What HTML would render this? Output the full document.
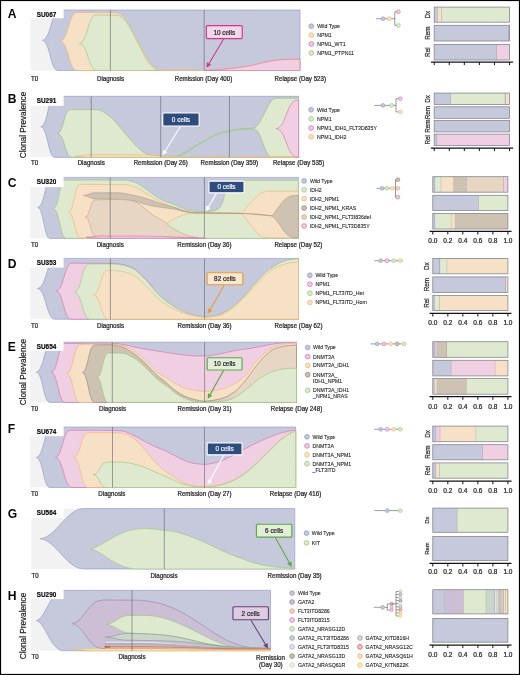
<!DOCTYPE html>
<html><head><meta charset="utf-8"><style>
html,body{margin:0;padding:0;background:#fff;}
svg{display:block;font-family:"Liberation Sans", sans-serif;}
</style></head><body>
<svg width="520" height="675" viewBox="0 0 520 675">
<rect x="0" y="0" width="520" height="675" fill="#fff"/>
<defs><linearGradient id="tpE" gradientUnits="userSpaceOnUse" x1="200" y1="0" x2="240" y2="0"><stop offset="0" stop-color="#cec3b3"/><stop offset="1" stop-color="#e6d6c3"/></linearGradient></defs>
<g opacity="0.99">
<rect x="30.5" y="10" width="269.5" height="60.5" fill="#f2f2f2"/>
<path d="M42.3 40.25C51.15 39.34 51.15 10 60 10C160.8 10 199.2 10 300 10L300 70.5C198.36 70.5 159.64 70.5 58 70.5C50.15 70.5 50.15 41.16 42.3 40.25Z" fill="#c6c8dc" stroke="#8e96c6" stroke-width="0.6" stroke-linejoin="round"/>
<path d="M60.3 41.2C68.65 40.34 68.65 12.5 77 12.5C90 12.5 103 12.61 116 12.8C130.67 13.02 145.33 70 160 70C176.8 70 183.2 70 200 70C202.1 70 202.9 70.05 205 70.05C208.67 70.05 212.33 69.85 216 69.65C219.57 69.46 223.13 68.92 226.7 68.55C230.13 68.19 233.57 67.87 237 67.45C240.63 67 244.27 66.5 247.9 65.85C251.43 65.22 254.97 64.24 258.5 63.45C262 62.67 265.5 61.78 269 61.15C272.53 60.52 276.07 59.81 279.6 59.55C283.07 59.3 286.53 59.11 290 59.05C293.33 59 296.67 58.95 300 58.95L300 70.5C206.34 70.5 170.66 70.5 77 70.5C68.65 70.5 68.65 42.08 60.3 41.2Z" fill="#f6e1c7" stroke="#ecb46c" stroke-width="0.6" stroke-linejoin="round"/>
<path d="M79.4 43.6C87.7 42.74 87.7 15 96 15C103 15 110 15.08 117 15.2C130.83 15.44 144.67 70.3 158.5 70.3L158.5 70.5C132.67 70.5 122.83 70.5 97 70.5C88.2 70.5 88.2 44.41 79.4 43.6Z" fill="#dfe9cf" stroke="#94c47c" stroke-width="0.6" stroke-linejoin="round"/>
<path d="M205 70.4C208.67 70.4 212.33 70.2 216 70C219.57 69.81 223.13 69.27 226.7 68.9C230.13 68.54 233.57 68.22 237 67.8C240.63 67.35 244.27 66.85 247.9 66.2C251.43 65.57 254.97 64.59 258.5 63.8C262 63.02 265.5 62.13 269 61.5C272.53 60.87 276.07 60.16 279.6 59.9C283.07 59.65 286.53 59.46 290 59.4C293.33 59.35 296.67 59.3 300 59.3L300 70.5C260.1 70.5 244.9 70.5 205 70.5Z" fill="#f0cfe3" stroke="#dc6f9c" stroke-width="0.6" stroke-linejoin="round"/>
<line x1="110.4" y1="10" x2="110.4" y2="70.5" stroke="#50505e" stroke-opacity="0.7" stroke-width="0.75"/>
<line x1="204.2" y1="10" x2="204.2" y2="70.5" stroke="#50505e" stroke-opacity="0.7" stroke-width="0.75"/>
<rect x="29.5" y="8.5" width="34.1" height="9.7" fill="#fff"/>
<text transform="translate(36.7 16.5) scale(0.955 1)" font-size="6.7" text-anchor="start" font-weight="bold" fill="#000" stroke="#000" stroke-width="0.15">SU067</text>
<text x="7.7" y="17.9" font-size="12.1" text-anchor="start" font-weight="bold" fill="#000">A</text>
<text transform="translate(31 81.2) scale(0.95 1)" font-size="6.5" text-anchor="start" font-weight="normal" fill="#1e1e1e" stroke="#1e1e1e" stroke-width="0.24">T0</text>
<text transform="translate(110.5 81.2) scale(0.95 1)" font-size="6.5" text-anchor="middle" font-weight="normal" fill="#1e1e1e" stroke="#1e1e1e" stroke-width="0.24">Diagnosis</text>
<text transform="translate(203.5 81.2) scale(0.95 1)" font-size="6.5" text-anchor="middle" font-weight="normal" fill="#1e1e1e" stroke="#1e1e1e" stroke-width="0.24">Remission (Day 400)</text>
<text transform="translate(300.3 81.2) scale(0.95 1)" font-size="6.5" text-anchor="middle" font-weight="normal" fill="#1e1e1e" stroke="#1e1e1e" stroke-width="0.24">Relapse (Day 523)</text>
<line x1="223.6" y1="39.1" x2="208.8" y2="63.93" stroke="#d0368f" stroke-width="1.05"/>
<polygon points="206.5,67.8 206.91,62.23 211.21,64.78" fill="#d0368f"/>
<rect x="206.35" y="25.65" width="35.9" height="12.9" rx="1" fill="#f3d6e8" stroke="#d0368f" stroke-width="1.15"/>
<text transform="translate(224.3 34.5) scale(0.97 1)" font-size="6.6" text-anchor="middle" font-weight="normal" fill="#2a2a2a" stroke="#2a2a2a" stroke-width="0.24">10 cells</text>
<circle cx="311.3" cy="26.2" r="2.35" fill="#c6c8dc" stroke="#8e96c6" stroke-width="0.75"/>
<text transform="translate(317.2 28.1) scale(0.965 1)" font-size="5.4" text-anchor="start" font-weight="normal" fill="#222" stroke="#222" stroke-width="0.1">Wild Type</text>
<circle cx="311.3" cy="35.1" r="2.35" fill="#f6e1c7" stroke="#ecb46c" stroke-width="0.75"/>
<text transform="translate(317.2 37) scale(0.965 1)" font-size="5.4" text-anchor="start" font-weight="normal" fill="#222" stroke="#222" stroke-width="0.1">NPM1</text>
<circle cx="311.3" cy="44" r="2.35" fill="#f0cfe3" stroke="#d96aaa" stroke-width="0.75"/>
<text transform="translate(317.2 45.9) scale(0.965 1)" font-size="5.4" text-anchor="start" font-weight="normal" fill="#222" stroke="#222" stroke-width="0.1">NPM1_WT1</text>
<circle cx="311.3" cy="53" r="2.35" fill="#dfe9cf" stroke="#94c47c" stroke-width="0.75"/>
<text transform="translate(317.2 54.9) scale(0.965 1)" font-size="5.4" text-anchor="start" font-weight="normal" fill="#222" stroke="#222" stroke-width="0.1">NPM1_PTPN11</text>
<line x1="376" y1="18.7" x2="395" y2="18.7" stroke="#555" stroke-width="0.6"/>
<line x1="394.8" y1="11.7" x2="394.8" y2="25.4" stroke="#555" stroke-width="0.6"/>
<line x1="394.8" y1="11.7" x2="398" y2="11.7" stroke="#555" stroke-width="0.6"/>
<line x1="394.8" y1="25.4" x2="398" y2="25.4" stroke="#555" stroke-width="0.6"/>
<circle cx="383" cy="18.7" r="1.9" fill="#c6c8dc" stroke="#8e96c6" stroke-width="0.6"/>
<circle cx="389.5" cy="18.7" r="1.9" fill="#f6e1c7" stroke="#ecb46c" stroke-width="0.6"/>
<circle cx="398.4" cy="11.7" r="1.9" fill="#f0cfe3" stroke="#d96aaa" stroke-width="0.6"/>
<circle cx="398.4" cy="25.4" r="1.9" fill="#dfe9cf" stroke="#94c47c" stroke-width="0.6"/>
<rect x="434.2" y="7.1" width="3.4" height="15.1" fill="#c6c8dc"/>
<line x1="437.6" y1="7.1" x2="437.6" y2="22.2" stroke="#5e5e68" stroke-opacity="0.75" stroke-width="0.6"/>
<rect x="437.6" y="7.1" width="4.1" height="15.1" fill="#f6e1c7"/>
<line x1="441.7" y1="7.1" x2="441.7" y2="22.2" stroke="#5e5e68" stroke-opacity="0.75" stroke-width="0.6"/>
<rect x="441.7" y="7.1" width="67.8" height="15.1" fill="#dfe9cf"/>
<rect x="434.2" y="7.1" width="75.3" height="15.1" fill="none" stroke="#85858f" stroke-width="0.8"/>
<rect x="434.2" y="25.3" width="74.8" height="15.7" fill="#c6c8dc"/>
<line x1="509" y1="25.3" x2="509" y2="41" stroke="#5e5e68" stroke-opacity="0.75" stroke-width="0.6"/>
<rect x="509" y="25.3" width="0.5" height="15.7" fill="#dfe9cf"/>
<rect x="434.2" y="25.3" width="75.3" height="15.7" fill="none" stroke="#85858f" stroke-width="0.8"/>
<rect x="434.2" y="44.4" width="62.6" height="15.6" fill="#c6c8dc"/>
<line x1="496.8" y1="44.4" x2="496.8" y2="60" stroke="#5e5e68" stroke-opacity="0.75" stroke-width="0.6"/>
<rect x="496.8" y="44.4" width="12.7" height="15.6" fill="#f0cfe3"/>
<rect x="434.2" y="44.4" width="75.3" height="15.6" fill="none" stroke="#85858f" stroke-width="0.8"/>
<line x1="430.9" y1="62" x2="513.1" y2="62" stroke="#111" stroke-width="1.25"/>
<line x1="434.2" y1="62" x2="434.2" y2="65.1" stroke="#111" stroke-width="1.0"/>
<line x1="449.26" y1="62" x2="449.26" y2="65.1" stroke="#111" stroke-width="1.0"/>
<line x1="464.32" y1="62" x2="464.32" y2="65.1" stroke="#111" stroke-width="1.0"/>
<line x1="479.38" y1="62" x2="479.38" y2="65.1" stroke="#111" stroke-width="1.0"/>
<line x1="494.44" y1="62" x2="494.44" y2="65.1" stroke="#111" stroke-width="1.0"/>
<line x1="509.5" y1="62" x2="509.5" y2="65.1" stroke="#111" stroke-width="1.0"/>
<text transform="translate(430.3 14.6) rotate(-90)" font-size="6.3" text-anchor="middle" fill="#1e1e1e" stroke="#1e1e1e" stroke-width="0.2">Dx</text>
<text transform="translate(430.3 33.1) rotate(-90)" font-size="6.3" text-anchor="middle" fill="#1e1e1e" stroke="#1e1e1e" stroke-width="0.2">Rem</text>
<text transform="translate(430.3 52.2) rotate(-90)" font-size="6.3" text-anchor="middle" fill="#1e1e1e" stroke="#1e1e1e" stroke-width="0.2">Rel</text>
<rect x="30.5" y="96.3" width="268.1" height="61.1" fill="#f2f2f2"/>
<path d="M40.8 126.8C47.9 125.88 47.9 96.3 55 96.3C157.31 96.3 196.29 96.3 298.6 96.3L298.6 157.4C196.29 157.4 157.31 157.4 55 157.4C47.9 157.4 47.9 127.72 40.8 126.8Z" fill="#c6c8dc" stroke="#8e96c6" stroke-width="0.6" stroke-linejoin="round"/>
<path d="M57.6 133.5C63.8 132.78 63.8 109.6 70 109.6C80.92 109.6 85.08 109.6 96 109.6C114.67 109.6 133.33 153.79 152 155.6C156.33 156.02 160.67 156.4 165 156.4C168.47 156.4 171.93 156.33 175.4 156.2C177.97 156.1 180.53 154.64 183.1 153.5C185.67 152.36 188.23 150.4 190.8 148.8C193.37 147.2 195.93 145.43 198.5 143.9C201.07 142.37 203.63 141.04 206.2 139.6C208.73 138.18 211.27 136.45 213.8 135.3C216.37 134.14 218.93 133.14 221.5 132.4C224.07 131.66 226.63 131.1 229.2 130.6C232.8 129.89 236.4 129.12 240 128.8C244.6 128.4 249.2 128.48 253.8 128C261 127.25 268.2 98.2 275.4 98.2C285.14 98.2 288.86 98.2 298.6 98.2L298.6 157.4C287.43 157.4 283.17 157.4 272 157.4C264.36 157.4 261.44 128.8 253.8 128.8C249.2 128.8 244.6 129.2 240 129.6C236.4 129.92 232.8 130.69 229.2 131.4C226.63 131.9 224.07 132.46 221.5 133.2C218.93 133.94 216.37 134.94 213.8 136.1C211.27 137.25 208.73 138.98 206.2 140.4C203.63 141.84 201.07 143.17 198.5 144.7C195.93 146.23 193.37 148 190.8 149.6C188.23 151.2 185.67 153.16 183.1 154.3C180.53 155.44 177.97 156.95 175.4 157C171.93 157.07 168.47 157.04 165 157.1C163.33 157.13 161.67 157.4 160 157.4C123.04 157.4 108.96 157.4 72 157.4C64.8 157.4 64.8 134.22 57.6 133.5Z" fill="#dfe9cf" stroke="#94c47c" stroke-width="0.7" stroke-linejoin="round"/>
<path d="M75 156.2C81.3 156.2 83.7 154.8 90 154.8C109.33 154.8 128.67 154.82 148 154.9C154 154.92 160 156.23 166 156.3C177.33 156.44 188.67 156.5 200 156.5C241.41 156.5 257.19 156.5 298.6 156.5L298.6 157.2C210.99 157.2 177.61 157.2 90 157.2C83.7 157.2 81.3 156.4 75 156.4Z" fill="#f6e1c7" stroke="#ecb46c" stroke-width="0.6" stroke-linejoin="round"/>
<path d="M276 128.6C286.5 127.75 286.5 100.3 297 100.3C297.67 100.3 297.93 100.3 298.6 100.3L298.6 157C297.93 157 297.67 157 297 157C286.5 157 286.5 129.45 276 128.6Z" fill="#f0cfe3" stroke="#d96aaa" stroke-width="0.6" stroke-linejoin="round"/>
<line x1="91.2" y1="96.3" x2="91.2" y2="157.4" stroke="#50505e" stroke-opacity="0.7" stroke-width="0.75"/>
<line x1="160.7" y1="96.3" x2="160.7" y2="157.4" stroke="#50505e" stroke-opacity="0.7" stroke-width="0.75"/>
<line x1="229.4" y1="96.3" x2="229.4" y2="157.4" stroke="#50505e" stroke-opacity="0.7" stroke-width="0.75"/>
<rect x="29.5" y="94.8" width="34.1" height="11" fill="#fff"/>
<text transform="translate(36.7 102.8) scale(0.955 1)" font-size="6.7" text-anchor="start" font-weight="bold" fill="#000" stroke="#000" stroke-width="0.15">SU291</text>
<text x="7.7" y="103.4" font-size="12.1" text-anchor="start" font-weight="bold" fill="#000">B</text>
<text transform="translate(26.2 125) rotate(-90)" font-size="8.2" text-anchor="middle" fill="#1e1e1e" stroke="#1e1e1e" stroke-width="0.22">Clonal Prevalence</text>
<text transform="translate(31 165.2) scale(0.95 1)" font-size="6.5" text-anchor="start" font-weight="normal" fill="#1e1e1e" stroke="#1e1e1e" stroke-width="0.24">T0</text>
<text transform="translate(91.2 165.2) scale(0.95 1)" font-size="6.5" text-anchor="middle" font-weight="normal" fill="#1e1e1e" stroke="#1e1e1e" stroke-width="0.24">Diagnosis</text>
<text transform="translate(160.7 165.2) scale(0.95 1)" font-size="6.5" text-anchor="middle" font-weight="normal" fill="#1e1e1e" stroke="#1e1e1e" stroke-width="0.24">Remission (Day 26)</text>
<text transform="translate(229.4 165.2) scale(0.95 1)" font-size="6.5" text-anchor="middle" font-weight="normal" fill="#1e1e1e" stroke="#1e1e1e" stroke-width="0.24">Remission (Day 359)</text>
<text transform="translate(298.6 165.2) scale(0.95 1)" font-size="6.5" text-anchor="middle" font-weight="normal" fill="#1e1e1e" stroke="#1e1e1e" stroke-width="0.24">Relapse (Day 535)</text>
<line x1="180.4" y1="126.5" x2="164.97" y2="151.47" stroke="#ffffff" stroke-width="1.05"/>
<polygon points="162.6,155.3 163.1,149.73 167.36,152.36" fill="#ffffff"/>
<rect x="162.75" y="112.95" width="36.4" height="13" rx="1" fill="#2d4a7d" stroke="#ffffff" stroke-width="1.15"/>
<text transform="translate(180.95 121.85) scale(0.97 1)" font-size="6.6" text-anchor="middle" font-weight="normal" fill="#f0f2f8" stroke="#f0f2f8" stroke-width="0.24">0 cells</text>
<circle cx="311.1" cy="109.8" r="2.35" fill="#c6c8dc" stroke="#8e96c6" stroke-width="0.75"/>
<text transform="translate(317.1 111.7) scale(0.965 1)" font-size="5.4" text-anchor="start" font-weight="normal" fill="#222" stroke="#222" stroke-width="0.1">Wild Type</text>
<circle cx="311.1" cy="118.9" r="2.35" fill="#dfe9cf" stroke="#94c47c" stroke-width="0.75"/>
<text transform="translate(317.1 120.8) scale(0.965 1)" font-size="5.4" text-anchor="start" font-weight="normal" fill="#222" stroke="#222" stroke-width="0.1">NPM1</text>
<circle cx="311.1" cy="128" r="2.35" fill="#f0cfe3" stroke="#d96aaa" stroke-width="0.75"/>
<text transform="translate(317.1 129.9) scale(0.965 1)" font-size="5.4" text-anchor="start" font-weight="normal" fill="#222" stroke="#222" stroke-width="0.1">NPM1_IDH1_FLT3D835Y</text>
<circle cx="311.1" cy="136.9" r="2.35" fill="#f6e1c7" stroke="#ecb46c" stroke-width="0.75"/>
<text transform="translate(317.1 138.8) scale(0.965 1)" font-size="5.4" text-anchor="start" font-weight="normal" fill="#222" stroke="#222" stroke-width="0.1">NPM1_IDH2</text>
<line x1="374.3" y1="105.4" x2="396" y2="105.4" stroke="#555" stroke-width="0.6"/>
<line x1="396" y1="98.7" x2="396" y2="111.9" stroke="#555" stroke-width="0.6"/>
<line x1="396" y1="98.7" x2="400" y2="98.7" stroke="#555" stroke-width="0.6"/>
<line x1="396" y1="111.9" x2="400" y2="111.9" stroke="#555" stroke-width="0.6"/>
<circle cx="383" cy="105.4" r="1.9" fill="#c6c8dc" stroke="#8e96c6" stroke-width="0.6"/>
<circle cx="391.6" cy="105.4" r="1.9" fill="#dfe9cf" stroke="#94c47c" stroke-width="0.6"/>
<circle cx="400.3" cy="98.7" r="1.9" fill="#f0cfe3" stroke="#d96aaa" stroke-width="0.6"/>
<circle cx="400.3" cy="111.9" r="1.9" fill="#f6e1c7" stroke="#ecb46c" stroke-width="0.6"/>
<rect x="434.2" y="93.1" width="16.6" height="11.5" fill="#c6c8dc"/>
<line x1="450.8" y1="93.1" x2="450.8" y2="104.6" stroke="#5e5e68" stroke-opacity="0.75" stroke-width="0.6"/>
<rect x="450.8" y="93.1" width="54.5" height="11.5" fill="#dfe9cf"/>
<line x1="505.3" y1="93.1" x2="505.3" y2="104.6" stroke="#5e5e68" stroke-opacity="0.75" stroke-width="0.6"/>
<rect x="505.3" y="93.1" width="0.6" height="11.5" fill="#f0cfe3"/>
<line x1="505.9" y1="93.1" x2="505.9" y2="104.6" stroke="#5e5e68" stroke-opacity="0.75" stroke-width="0.6"/>
<rect x="505.9" y="93.1" width="3.6" height="11.5" fill="#f6e1c7"/>
<rect x="434.2" y="93.1" width="75.3" height="11.5" fill="none" stroke="#85858f" stroke-width="0.8"/>
<rect x="434.2" y="106.8" width="75.3" height="11.5" fill="#c6c8dc"/>
<rect x="434.2" y="106.8" width="75.3" height="11.5" fill="none" stroke="#85858f" stroke-width="0.8"/>
<rect x="434.2" y="120.6" width="75.3" height="11.3" fill="#c6c8dc"/>
<rect x="434.2" y="120.6" width="75.3" height="11.3" fill="none" stroke="#85858f" stroke-width="0.8"/>
<rect x="434.2" y="134.1" width="3" height="11.3" fill="#c6c8dc"/>
<line x1="437.2" y1="134.1" x2="437.2" y2="145.4" stroke="#5e5e68" stroke-opacity="0.75" stroke-width="0.6"/>
<rect x="437.2" y="134.1" width="72.3" height="11.3" fill="#f0cfe3"/>
<rect x="434.2" y="134.1" width="75.3" height="11.3" fill="none" stroke="#85858f" stroke-width="0.8"/>
<line x1="430.9" y1="148" x2="513.1" y2="148" stroke="#111" stroke-width="1.25"/>
<line x1="434.2" y1="148" x2="434.2" y2="151.1" stroke="#111" stroke-width="1.0"/>
<line x1="449.26" y1="148" x2="449.26" y2="151.1" stroke="#111" stroke-width="1.0"/>
<line x1="464.32" y1="148" x2="464.32" y2="151.1" stroke="#111" stroke-width="1.0"/>
<line x1="479.38" y1="148" x2="479.38" y2="151.1" stroke="#111" stroke-width="1.0"/>
<line x1="494.44" y1="148" x2="494.44" y2="151.1" stroke="#111" stroke-width="1.0"/>
<line x1="509.5" y1="148" x2="509.5" y2="151.1" stroke="#111" stroke-width="1.0"/>
<text transform="translate(430 98.9) rotate(-90)" font-size="6.3" text-anchor="middle" fill="#1e1e1e" stroke="#1e1e1e" stroke-width="0.2">Dx</text>
<text transform="translate(430 112.6) rotate(-90)" font-size="6.3" text-anchor="middle" fill="#1e1e1e" stroke="#1e1e1e" stroke-width="0.2">Rem</text>
<text transform="translate(430 126.2) rotate(-90)" font-size="6.3" text-anchor="middle" fill="#1e1e1e" stroke="#1e1e1e" stroke-width="0.2">Rem</text>
<text transform="translate(430 139.8) rotate(-90)" font-size="6.3" text-anchor="middle" fill="#1e1e1e" stroke="#1e1e1e" stroke-width="0.2">Rel</text>
<rect x="30.2" y="177.4" width="268.2" height="61" fill="#f2f2f2"/>
<path d="M37.7 207.5C44.85 206.6 44.85 177.4 52 177.4C155.49 177.4 194.91 177.4 298.4 177.4L298.4 238.4C194.07 238.4 154.33 238.4 50 238.4C43.85 238.4 43.85 208.43 37.7 207.5Z" fill="#c6c8dc" stroke="#8e96c6" stroke-width="0.6" stroke-linejoin="round"/>
<path d="M53.4 208.6C59.2 207.75 59.2 180.1 65 180.1C90.28 180.1 99.92 180.1 125.2 180.1C127.43 180.1 129.67 180.81 131.9 181.4C134.13 181.99 136.37 182.96 138.6 184.1C140.87 185.25 143.13 187.22 145.4 188.8C147.63 190.36 149.87 191.93 152.1 193.5C154.33 195.07 156.57 196.9 158.8 198.2C161.07 199.52 163.33 200.73 165.6 201.6C167.07 202.16 168.53 202.49 170 203C172.23 203.78 174.47 204.68 176.7 205.6C178.97 206.54 181.23 207.77 183.5 208.6C185.73 209.42 187.97 210.31 190.2 210.7C192.43 211.09 194.67 211.4 196.9 211.5C199.37 211.61 201.83 211.7 204.3 211.7C206.33 211.7 208.37 211.56 210.4 211.4C211.93 211.28 213.47 210.94 215 210.5C216.33 210.12 217.67 209.45 219 208.4C219.83 207.75 220.67 206.55 221.5 205C222.1 203.88 222.7 202.11 223.3 200C223.73 198.48 224.17 196.43 224.6 194C224.93 192.13 225.27 188.9 225.6 187C226 184.72 226.4 181.61 226.8 181.3C227.7 180.61 228.6 180.3 229.5 180.3C258.44 180.3 269.46 180.3 298.4 180.3L298.4 238.4C200.88 238.4 163.72 238.4 66.2 238.4C59.8 238.4 59.8 209.49 53.4 208.6Z" fill="#dfe9cf" stroke="#94c47c" stroke-width="0.6" stroke-linejoin="round"/>
<path d="M68.5 212.5C74.25 211.66 74.25 184.4 80 184.4C95.07 184.4 110.13 184.41 125.2 184.5C127.43 184.51 129.67 185.43 131.9 186.1C134.13 186.77 136.37 187.73 138.6 188.8C140.87 189.88 143.13 191.44 145.4 192.8C147.63 194.14 149.87 195.55 152.1 196.9C154.33 198.25 156.57 199.68 158.8 200.9C161.07 202.13 163.33 203.36 165.6 204.3C168.73 205.6 171.87 206.55 175 207.6C178.33 208.72 181.67 210.03 185 210.8C188.33 211.57 191.67 212.5 195 212.6C210.13 213.06 225.27 213.2 240.4 213.2C243.1 213.2 245.8 207.74 248.5 205C250.73 202.74 252.97 200.25 255.2 198.2C257.47 196.12 259.73 193.22 262 192.5C264.2 191.8 266.4 191.2 268.6 191.2C281.12 191.2 285.88 191.2 298.4 191.2L298.4 237.8C285.88 237.8 281.12 237.8 268.6 237.8C266.37 237.8 264.13 237.27 261.9 236.6C259.67 235.93 257.43 232.81 255.2 230.5C252.97 228.19 250.73 225.06 248.5 222.5C245.8 219.41 243.1 213.69 240.4 213.6C225.47 213.09 210.53 213 195.6 213C193.8 213 192 213.14 190.2 213.3C187.97 213.5 185.73 214.31 183.5 215C181.23 215.7 178.97 216.66 176.7 217.7C173.43 219.19 170.17 220.93 166.9 223.1C161.27 226.84 155.63 238 150 238C121.02 238 109.98 238 81 238C74.75 238 74.75 213.26 68.5 212.5Z" fill="#f6e1c7" stroke="#ecb46c" stroke-width="0.6" stroke-linejoin="round"/>
<path d="M83.5 195.5C88.16 195.5 89.94 192.8 94.6 192.8C104.64 192.8 108.46 192.8 118.5 192.8C122.97 192.8 127.43 194.05 131.9 194.9C136.4 195.76 140.9 196.9 145.4 198.2C149.87 199.49 154.33 201.48 158.8 202.9C164.2 204.62 169.6 205.89 175 207.6C178.67 208.76 182.33 210.64 186 211.4C189.33 212.09 192.67 212.83 196 212.9C210.8 213.21 225.6 213.05 240.4 213.3C250.7 213.47 261 215.7 271.3 215.7C273.57 215.7 275.83 210.36 278.1 207.6C279.9 205.41 281.7 202.59 283.5 200.9C285.27 199.24 287.03 197.58 288.8 196.9C290.6 196.2 292.4 195.64 294.2 195.5C295.6 195.39 297 195.3 298.4 195.3L298.4 237.6C297 237.6 295.6 237.56 294.2 237.5C292.4 237.42 290.6 236.73 288.8 235.9C287.03 235.09 285.27 232.63 283.5 230.5C281.7 228.33 279.9 224.65 278.1 222.5C275.83 219.8 273.57 216.2 271.3 215.8C261 213.99 250.7 213.57 240.4 213.4C225.6 213.15 210.8 213.3 196 213C192.67 212.93 189.33 212.48 186 212C182.33 211.48 178.67 209.86 175 209.2C169.6 208.22 164.2 207.88 158.8 207C154.33 206.27 149.87 205.37 145.4 204.3C140.9 203.22 136.4 200.84 131.9 200.3C127.43 199.77 122.97 199.43 118.5 199.3C110.53 199.07 102.57 199.18 94.6 198.9C90.9 198.77 87.2 195.6 83.5 195.6Z" fill="#cec3b3" stroke="#9a8672" stroke-width="0.45" stroke-linejoin="round"/>
<path d="M85.4 217.1C90.2 216.59 90.2 200 95 200C102.83 199.62 110.67 199.5 118.5 199.5C120.73 199.5 122.97 199.65 125.2 199.8C127.43 199.95 129.67 200.31 131.9 200.8C134.13 201.29 136.37 202.38 138.6 203.6C140.87 204.84 143.13 207.19 145.4 209C147.63 210.79 149.87 212.87 152.1 214.4C154.33 215.93 156.57 217.06 158.8 218.4C161.07 219.76 163.33 220.83 165.6 222.5C167.07 223.58 168.53 225.43 170 226.5C172.23 228.13 174.47 229.28 176.7 230.5C178.97 231.73 181.23 232.98 183.5 233.9C185.73 234.81 187.97 235.69 190.2 236.2C192.8 236.79 195.4 237.5 198 237.5C163.83 237.5 129.67 237.39 95.5 236.3C90.45 236.3 90.45 217.68 85.4 217.1Z" fill="#e6d6c3" stroke="#c9a47c" stroke-width="0.6" stroke-linejoin="round"/>
<path d="M86.2 237.1C92 237.1 94.2 236 100 236C116.67 236 133.33 236.08 150 236.2C168.43 236.33 186.87 238 205.3 238L205.3 238.3C170.2 238.3 135.1 238.29 100 238.2C95.4 238.19 90.8 237.3 86.2 237.3Z" fill="#f0cfe3" stroke="#d96aaa" stroke-width="0.6" stroke-linejoin="round"/>
<line x1="110.2" y1="177.4" x2="110.2" y2="238.4" stroke="#50505e" stroke-opacity="0.7" stroke-width="0.75"/>
<line x1="204.4" y1="177.4" x2="204.4" y2="238.4" stroke="#50505e" stroke-opacity="0.7" stroke-width="0.75"/>
<rect x="29.2" y="175.9" width="34.4" height="11.2" fill="#fff"/>
<text transform="translate(36.7 183.9) scale(0.955 1)" font-size="6.7" text-anchor="start" font-weight="bold" fill="#000" stroke="#000" stroke-width="0.15">SU320</text>
<text x="7.7" y="186.9" font-size="12.1" text-anchor="start" font-weight="bold" fill="#000">C</text>
<text transform="translate(31 246.6) scale(0.95 1)" font-size="6.5" text-anchor="start" font-weight="normal" fill="#1e1e1e" stroke="#1e1e1e" stroke-width="0.24">T0</text>
<text transform="translate(110.2 246.6) scale(0.95 1)" font-size="6.5" text-anchor="middle" font-weight="normal" fill="#1e1e1e" stroke="#1e1e1e" stroke-width="0.24">Diagnosis</text>
<text transform="translate(204.4 246.6) scale(0.95 1)" font-size="6.5" text-anchor="middle" font-weight="normal" fill="#1e1e1e" stroke="#1e1e1e" stroke-width="0.24">Remission (Day 36)</text>
<text transform="translate(298.4 246.6) scale(0.95 1)" font-size="6.5" text-anchor="middle" font-weight="normal" fill="#1e1e1e" stroke="#1e1e1e" stroke-width="0.24">Relapse (Day 52)</text>
<line x1="216.5" y1="193.4" x2="208.2" y2="207.33" stroke="#ffffff" stroke-width="1.05"/>
<polygon points="205.9,211.2 206.31,205.62 210.61,208.18" fill="#ffffff"/>
<rect x="208.95" y="181.15" width="35.1" height="11.7" rx="1" fill="#2d4a7d" stroke="#ffffff" stroke-width="1.15"/>
<text transform="translate(226.5 189.4) scale(0.97 1)" font-size="6.6" text-anchor="middle" font-weight="normal" fill="#f0f2f8" stroke="#f0f2f8" stroke-width="0.24">0 cells</text>
<circle cx="304.1" cy="180.9" r="2.35" fill="#c6c8dc" stroke="#8e96c6" stroke-width="0.75"/>
<text transform="translate(309.9 182.8) scale(0.965 1)" font-size="5.4" text-anchor="start" font-weight="normal" fill="#222" stroke="#222" stroke-width="0.1">Wild Type</text>
<circle cx="304.1" cy="189.8" r="2.35" fill="#dfe9cf" stroke="#94c47c" stroke-width="0.75"/>
<text transform="translate(309.9 191.7) scale(0.965 1)" font-size="5.4" text-anchor="start" font-weight="normal" fill="#222" stroke="#222" stroke-width="0.1">IDH2</text>
<circle cx="304.1" cy="198.7" r="2.35" fill="#f6e1c7" stroke="#ecb46c" stroke-width="0.75"/>
<text transform="translate(309.9 200.6) scale(0.965 1)" font-size="5.4" text-anchor="start" font-weight="normal" fill="#222" stroke="#222" stroke-width="0.1">IDH2_NPM1</text>
<circle cx="304.1" cy="208" r="2.35" fill="#cec3b3" stroke="#927e6a" stroke-width="0.75"/>
<text transform="translate(309.9 209.9) scale(0.965 1)" font-size="5.4" text-anchor="start" font-weight="normal" fill="#222" stroke="#222" stroke-width="0.1">IDH2_NPM1_KRAS</text>
<circle cx="304.1" cy="217" r="2.35" fill="#e6d6c3" stroke="#c9a47c" stroke-width="0.75"/>
<text transform="translate(309.9 218.9) scale(0.965 1)" font-size="5.4" text-anchor="start" font-weight="normal" fill="#222" stroke="#222" stroke-width="0.1">IDH2_NPM1_FLT3I836del</text>
<circle cx="304.1" cy="226" r="2.35" fill="#f0cfe3" stroke="#d96aaa" stroke-width="0.75"/>
<text transform="translate(309.9 227.9) scale(0.965 1)" font-size="5.4" text-anchor="start" font-weight="normal" fill="#222" stroke="#222" stroke-width="0.1">IDH2_NPM1_FLT3D835Y</text>
<line x1="376.7" y1="188.3" x2="395.5" y2="188.3" stroke="#555" stroke-width="0.6"/>
<line x1="395.5" y1="179.7" x2="395.5" y2="197.2" stroke="#555" stroke-width="0.6"/>
<line x1="395.5" y1="179.7" x2="397.9" y2="179.7" stroke="#555" stroke-width="0.6"/>
<line x1="395.5" y1="197.2" x2="397.9" y2="197.2" stroke="#555" stroke-width="0.6"/>
<circle cx="382" cy="188.3" r="1.9" fill="#c6c8dc" stroke="#8e96c6" stroke-width="0.6"/>
<circle cx="387.2" cy="188.3" r="1.9" fill="#dfe9cf" stroke="#94c47c" stroke-width="0.6"/>
<circle cx="392.4" cy="188.3" r="1.9" fill="#f6e1c7" stroke="#ecb46c" stroke-width="0.6"/>
<circle cx="397.9" cy="179.7" r="1.9" fill="#cec3b3" stroke="#927e6a" stroke-width="0.6"/>
<circle cx="397.9" cy="188.3" r="1.9" fill="#e6d6c3" stroke="#c9a47c" stroke-width="0.6"/>
<circle cx="397.9" cy="197.2" r="1.9" fill="#f0cfe3" stroke="#d96aaa" stroke-width="0.6"/>
<rect x="432.8" y="176.7" width="2.4" height="15.5" fill="#c6c8dc"/>
<line x1="435.2" y1="176.7" x2="435.2" y2="192.2" stroke="#5e5e68" stroke-opacity="0.75" stroke-width="0.6"/>
<rect x="435.2" y="176.7" width="6.1" height="15.5" fill="#dfe9cf"/>
<line x1="441.3" y1="176.7" x2="441.3" y2="192.2" stroke="#5e5e68" stroke-opacity="0.75" stroke-width="0.6"/>
<rect x="441.3" y="176.7" width="12.7" height="15.5" fill="#f6e1c7"/>
<line x1="454" y1="176.7" x2="454" y2="192.2" stroke="#5e5e68" stroke-opacity="0.75" stroke-width="0.6"/>
<rect x="454" y="176.7" width="12.5" height="15.5" fill="#cec3b3"/>
<line x1="466.5" y1="176.7" x2="466.5" y2="192.2" stroke="#5e5e68" stroke-opacity="0.75" stroke-width="0.6"/>
<rect x="466.5" y="176.7" width="37.4" height="15.5" fill="#e6d6c3"/>
<line x1="503.9" y1="176.7" x2="503.9" y2="192.2" stroke="#5e5e68" stroke-opacity="0.75" stroke-width="0.6"/>
<rect x="503.9" y="176.7" width="4" height="15.5" fill="#f0cfe3"/>
<rect x="432.8" y="176.7" width="75.1" height="15.5" fill="none" stroke="#85858f" stroke-width="0.8"/>
<rect x="432.8" y="195.3" width="45.8" height="15.1" fill="#c6c8dc"/>
<line x1="478.6" y1="195.3" x2="478.6" y2="210.4" stroke="#5e5e68" stroke-opacity="0.75" stroke-width="0.6"/>
<rect x="478.6" y="195.3" width="29.3" height="15.1" fill="#dfe9cf"/>
<rect x="432.8" y="195.3" width="75.1" height="15.1" fill="none" stroke="#85858f" stroke-width="0.8"/>
<rect x="432.8" y="213.4" width="2.4" height="15.6" fill="#c6c8dc"/>
<line x1="435.2" y1="213.4" x2="435.2" y2="229" stroke="#5e5e68" stroke-opacity="0.75" stroke-width="0.6"/>
<rect x="435.2" y="213.4" width="16.2" height="15.6" fill="#dfe9cf"/>
<line x1="451.4" y1="213.4" x2="451.4" y2="229" stroke="#5e5e68" stroke-opacity="0.75" stroke-width="0.6"/>
<rect x="451.4" y="213.4" width="4" height="15.6" fill="#f6e1c7"/>
<line x1="455.4" y1="213.4" x2="455.4" y2="229" stroke="#5e5e68" stroke-opacity="0.75" stroke-width="0.6"/>
<rect x="455.4" y="213.4" width="52.5" height="15.6" fill="#cec3b3"/>
<rect x="432.8" y="213.4" width="75.1" height="15.6" fill="none" stroke="#85858f" stroke-width="0.8"/>
<line x1="429.5" y1="231.4" x2="511.5" y2="231.4" stroke="#111" stroke-width="1.25"/>
<line x1="432.8" y1="231.4" x2="432.8" y2="234.5" stroke="#111" stroke-width="1.0"/>
<text x="432.8" y="243.4" font-size="6.5" text-anchor="middle" font-weight="normal" fill="#222" stroke="#222" stroke-width="0.24">0.0</text>
<line x1="447.82" y1="231.4" x2="447.82" y2="234.5" stroke="#111" stroke-width="1.0"/>
<text x="447.82" y="243.4" font-size="6.5" text-anchor="middle" font-weight="normal" fill="#222" stroke="#222" stroke-width="0.24">0.2</text>
<line x1="462.84" y1="231.4" x2="462.84" y2="234.5" stroke="#111" stroke-width="1.0"/>
<text x="462.84" y="243.4" font-size="6.5" text-anchor="middle" font-weight="normal" fill="#222" stroke="#222" stroke-width="0.24">0.4</text>
<line x1="477.86" y1="231.4" x2="477.86" y2="234.5" stroke="#111" stroke-width="1.0"/>
<text x="477.86" y="243.4" font-size="6.5" text-anchor="middle" font-weight="normal" fill="#222" stroke="#222" stroke-width="0.24">0.6</text>
<line x1="492.88" y1="231.4" x2="492.88" y2="234.5" stroke="#111" stroke-width="1.0"/>
<text x="492.88" y="243.4" font-size="6.5" text-anchor="middle" font-weight="normal" fill="#222" stroke="#222" stroke-width="0.24">0.8</text>
<line x1="507.9" y1="231.4" x2="507.9" y2="234.5" stroke="#111" stroke-width="1.0"/>
<text x="507.9" y="243.4" font-size="6.5" text-anchor="middle" font-weight="normal" fill="#222" stroke="#222" stroke-width="0.24">1.0</text>
<rect x="30.2" y="258.4" width="268.3" height="60.8" fill="#f2f2f2"/>
<path d="M37.4 288.5C46.7 287.6 46.7 258.4 56 258.4C157.85 258.4 196.65 258.4 298.5 258.4L298.5 319.2C196.23 319.2 157.27 319.2 55 319.2C46.2 319.2 46.2 289.42 37.4 288.5Z" fill="#c6c8dc" stroke="#8e96c6" stroke-width="0.6" stroke-linejoin="round"/>
<path d="M56.2 291C64.1 290.17 64.1 263.2 72 263.2C84.67 263.2 97.33 263.25 110 263.4C112.83 263.43 115.67 263.64 118.5 263.9C122.97 264.31 127.43 265.68 131.9 267.5C136.4 269.33 140.9 274.42 145.4 278.9C149.87 283.34 154.33 290.9 158.8 295.1C164.77 300.7 170.73 305.41 176.7 308.6C181.2 311 185.7 313.19 190.2 314.3C195.03 315.49 199.87 316.8 204.7 316.8C208.83 316.8 212.97 316.16 217.1 315.4C221.6 314.58 226.1 311.48 230.6 308.6C234.3 306.23 238 302.71 241.7 299.1C246.2 294.71 250.7 288.41 255.2 283.6C259.67 278.83 264.13 273.55 268.6 270.2C273.1 266.82 277.6 263.76 282.1 262.1C284.73 261.13 287.37 260.24 290 259.9C292.83 259.54 295.67 259.2 298.5 259.2L298.5 319.2C202.95 319.2 166.55 319.2 71 319.2C63.6 319.2 63.6 291.85 56.2 291Z" fill="#f0cfe3" stroke="#d96aaa" stroke-width="0.6" stroke-linejoin="round"/>
<path d="M74.5 292.3C81.75 291.45 81.75 264 89 264C96 263.93 103 263.9 110 263.9C112.83 263.9 115.67 264.14 118.5 264.4C122.97 264.81 127.43 266.18 131.9 268C136.4 269.83 140.9 275.02 145.4 279.4C149.87 283.74 154.33 290.65 158.8 294.75C164.77 300.23 170.73 305.06 176.7 308.25C181.2 310.65 185.7 312.84 190.2 313.95C195.03 315.14 199.87 316.45 204.7 316.45C208.83 316.45 212.97 315.81 217.1 315.05C221.6 314.23 226.1 311.13 230.6 308.25C234.3 305.88 238 302.36 241.7 298.75C246.2 294.36 250.7 288.06 255.2 283.25C259.67 278.48 264.13 273.2 268.6 269.85C273.1 266.47 277.6 263.41 282.1 261.75C284.73 260.78 287.37 259.89 290 259.55C292.83 259.19 295.67 258.85 298.5 258.85L298.5 319.2C210.93 319.2 177.57 319.2 90 319.2C82.25 319.2 82.25 293.11 74.5 292.3Z" fill="#dfe9cf" stroke="#94c47c" stroke-width="0.6" stroke-linejoin="round"/>
<path d="M93.4 294.6C100.45 293.88 100.45 270.5 107.5 270.5C111.17 270.5 114.83 270.67 118.5 270.9C122.97 271.18 127.43 272.7 131.9 274.5C136.4 276.31 140.9 281.21 145.4 285.3C149.87 289.36 154.33 295.87 158.8 299.4C164.77 304.11 170.73 307.95 176.7 310.5C181.2 312.42 185.7 314 190.2 315C195.03 316.07 199.87 317.4 204.7 317.4C208.83 317.4 212.97 316.8 217.1 316.1C221.6 315.34 226.1 312.56 230.6 309.8C236.57 306.14 242.53 299 248.5 293C252.97 288.51 257.43 282.7 261.9 278.6C266.4 274.47 270.9 269.99 275.4 267.8C279.87 265.62 284.33 263.85 288.8 263.1C292.03 262.56 295.27 262 298.5 262L298.5 319.2C218.7 319.2 188.3 319.2 108.5 319.2C100.95 319.2 100.95 295.34 93.4 294.6Z" fill="#f6e1c7" stroke="#ecb46c" stroke-width="0.6" stroke-linejoin="round"/>
<line x1="110.4" y1="258.4" x2="110.4" y2="319.2" stroke="#50505e" stroke-opacity="0.7" stroke-width="0.75"/>
<line x1="204.5" y1="258.4" x2="204.5" y2="319.2" stroke="#50505e" stroke-opacity="0.7" stroke-width="0.75"/>
<rect x="29.2" y="256.9" width="34.4" height="10.6" fill="#fff"/>
<text transform="translate(36.7 264.9) scale(0.955 1)" font-size="6.7" text-anchor="start" font-weight="bold" fill="#000" stroke="#000" stroke-width="0.15">SU353</text>
<text x="7.7" y="268.3" font-size="12.1" text-anchor="start" font-weight="bold" fill="#000">D</text>
<text transform="translate(31 327.6) scale(0.95 1)" font-size="6.5" text-anchor="start" font-weight="normal" fill="#1e1e1e" stroke="#1e1e1e" stroke-width="0.24">T0</text>
<text transform="translate(110.5 327.6) scale(0.95 1)" font-size="6.5" text-anchor="middle" font-weight="normal" fill="#1e1e1e" stroke="#1e1e1e" stroke-width="0.24">Diagnosis</text>
<text transform="translate(204.5 327.6) scale(0.95 1)" font-size="6.5" text-anchor="middle" font-weight="normal" fill="#1e1e1e" stroke="#1e1e1e" stroke-width="0.24">Remission (Day 36)</text>
<text transform="translate(298.5 327.6) scale(0.95 1)" font-size="6.5" text-anchor="middle" font-weight="normal" fill="#1e1e1e" stroke="#1e1e1e" stroke-width="0.24">Relapse (Day 62)</text>
<line x1="224.2" y1="285.3" x2="209.95" y2="309.91" stroke="#e69a3a" stroke-width="1.05"/>
<polygon points="207.7,313.8 208.04,308.22 212.37,310.73" fill="#e69a3a"/>
<rect x="207.05" y="272.75" width="35.8" height="12" rx="1" fill="#fbe7cf" stroke="#e69a3a" stroke-width="1.15"/>
<text transform="translate(224.95 281.15) scale(0.97 1)" font-size="6.6" text-anchor="middle" font-weight="normal" fill="#2a2a2a" stroke="#2a2a2a" stroke-width="0.24">82 cells</text>
<circle cx="309.9" cy="275.3" r="2.35" fill="#c6c8dc" stroke="#8e96c6" stroke-width="0.75"/>
<text transform="translate(315.4 277.2) scale(0.965 1)" font-size="5.4" text-anchor="start" font-weight="normal" fill="#222" stroke="#222" stroke-width="0.1">Wild Type</text>
<circle cx="309.9" cy="284.2" r="2.35" fill="#f0cfe3" stroke="#d96aaa" stroke-width="0.75"/>
<text transform="translate(315.4 286.1) scale(0.965 1)" font-size="5.4" text-anchor="start" font-weight="normal" fill="#222" stroke="#222" stroke-width="0.1">NPM1</text>
<circle cx="309.9" cy="293.3" r="2.35" fill="#dfe9cf" stroke="#94c47c" stroke-width="0.75"/>
<text transform="translate(315.4 295.2) scale(0.965 1)" font-size="5.4" text-anchor="start" font-weight="normal" fill="#222" stroke="#222" stroke-width="0.1">NPM1_FLT3ITD_Het</text>
<circle cx="309.9" cy="302.5" r="2.35" fill="#f6e1c7" stroke="#ecb46c" stroke-width="0.75"/>
<text transform="translate(315.4 304.4) scale(0.965 1)" font-size="5.4" text-anchor="start" font-weight="normal" fill="#222" stroke="#222" stroke-width="0.1">NPM1_FLT3ITD_Hom</text>
<line x1="374.3" y1="260.7" x2="403" y2="260.7" stroke="#555" stroke-width="0.6"/>
<circle cx="380.6" cy="260.7" r="1.9" fill="#c6c8dc" stroke="#8e96c6" stroke-width="0.6"/>
<circle cx="387" cy="260.7" r="1.9" fill="#f0cfe3" stroke="#d96aaa" stroke-width="0.6"/>
<circle cx="393.8" cy="260.7" r="1.9" fill="#dfe9cf" stroke="#94c47c" stroke-width="0.6"/>
<circle cx="400.3" cy="260.7" r="1.9" fill="#f6e1c7" stroke="#ecb46c" stroke-width="0.6"/>
<rect x="432.8" y="258.5" width="6.8" height="15.3" fill="#c6c8dc"/>
<line x1="439.6" y1="258.5" x2="439.6" y2="273.8" stroke="#5e5e68" stroke-opacity="0.75" stroke-width="0.6"/>
<rect x="439.6" y="258.5" width="0.6" height="15.3" fill="#f0cfe3"/>
<line x1="440.2" y1="258.5" x2="440.2" y2="273.8" stroke="#5e5e68" stroke-opacity="0.75" stroke-width="0.6"/>
<rect x="440.2" y="258.5" width="7.1" height="15.3" fill="#dfe9cf"/>
<line x1="447.3" y1="258.5" x2="447.3" y2="273.8" stroke="#5e5e68" stroke-opacity="0.75" stroke-width="0.6"/>
<rect x="447.3" y="258.5" width="60.6" height="15.3" fill="#f6e1c7"/>
<rect x="432.8" y="258.5" width="75.1" height="15.3" fill="none" stroke="#85858f" stroke-width="0.8"/>
<rect x="432.8" y="276.9" width="73.1" height="15.5" fill="#c6c8dc"/>
<line x1="505.9" y1="276.9" x2="505.9" y2="292.4" stroke="#5e5e68" stroke-opacity="0.75" stroke-width="0.6"/>
<rect x="505.9" y="276.9" width="2" height="15.5" fill="#f6e1c7"/>
<rect x="432.8" y="276.9" width="75.1" height="15.5" fill="none" stroke="#85858f" stroke-width="0.8"/>
<rect x="432.8" y="295.5" width="1.8" height="15.1" fill="#c6c8dc"/>
<line x1="434.6" y1="295.5" x2="434.6" y2="310.6" stroke="#5e5e68" stroke-opacity="0.75" stroke-width="0.6"/>
<rect x="434.6" y="295.5" width="5" height="15.1" fill="#dfe9cf"/>
<line x1="439.6" y1="295.5" x2="439.6" y2="310.6" stroke="#5e5e68" stroke-opacity="0.75" stroke-width="0.6"/>
<rect x="439.6" y="295.5" width="68.3" height="15.1" fill="#f6e1c7"/>
<rect x="432.8" y="295.5" width="75.1" height="15.1" fill="none" stroke="#85858f" stroke-width="0.8"/>
<line x1="429.5" y1="313.4" x2="511.5" y2="313.4" stroke="#111" stroke-width="1.25"/>
<line x1="432.8" y1="313.4" x2="432.8" y2="316.5" stroke="#111" stroke-width="1.0"/>
<text x="432.8" y="324.6" font-size="6.5" text-anchor="middle" font-weight="normal" fill="#222" stroke="#222" stroke-width="0.24">0.0</text>
<line x1="447.82" y1="313.4" x2="447.82" y2="316.5" stroke="#111" stroke-width="1.0"/>
<text x="447.82" y="324.6" font-size="6.5" text-anchor="middle" font-weight="normal" fill="#222" stroke="#222" stroke-width="0.24">0.2</text>
<line x1="462.84" y1="313.4" x2="462.84" y2="316.5" stroke="#111" stroke-width="1.0"/>
<text x="462.84" y="324.6" font-size="6.5" text-anchor="middle" font-weight="normal" fill="#222" stroke="#222" stroke-width="0.24">0.4</text>
<line x1="477.86" y1="313.4" x2="477.86" y2="316.5" stroke="#111" stroke-width="1.0"/>
<text x="477.86" y="324.6" font-size="6.5" text-anchor="middle" font-weight="normal" fill="#222" stroke="#222" stroke-width="0.24">0.6</text>
<line x1="492.88" y1="313.4" x2="492.88" y2="316.5" stroke="#111" stroke-width="1.0"/>
<text x="492.88" y="324.6" font-size="6.5" text-anchor="middle" font-weight="normal" fill="#222" stroke="#222" stroke-width="0.24">0.8</text>
<line x1="507.9" y1="313.4" x2="507.9" y2="316.5" stroke="#111" stroke-width="1.0"/>
<text x="507.9" y="324.6" font-size="6.5" text-anchor="middle" font-weight="normal" fill="#222" stroke="#222" stroke-width="0.24">1.0</text>
<text transform="translate(429.3 266.2) rotate(-90)" font-size="6.3" text-anchor="middle" fill="#1e1e1e" stroke="#1e1e1e" stroke-width="0.2">Dx</text>
<text transform="translate(429.3 284.6) rotate(-90)" font-size="6.3" text-anchor="middle" fill="#1e1e1e" stroke="#1e1e1e" stroke-width="0.2">Rem</text>
<text transform="translate(429.3 303) rotate(-90)" font-size="6.3" text-anchor="middle" fill="#1e1e1e" stroke="#1e1e1e" stroke-width="0.2">Rel</text>
<rect x="30.2" y="342.2" width="266.3" height="60.2" fill="#f2f2f2"/>
<path d="M36.2 372C44.1 371.11 44.1 342.2 52 342.2C154.69 342.2 193.81 342.2 296.5 342.2L296.5 402.4C192.97 402.4 153.53 402.4 50 402.4C43.1 402.4 43.1 372.91 36.2 372Z" fill="#c6c8dc" stroke="#8e96c6" stroke-width="0.6" stroke-linejoin="round"/>
<path d="M51.2 372.3C58.1 371.44 58.1 343.5 65 343.5C80 343.26 95 343.2 110 343.2C113.83 343.2 117.67 343.8 121.5 344.3C125.37 344.81 129.23 345.91 133.1 346.7C136.93 347.48 140.77 348.31 144.6 349C148.47 349.7 152.33 350.29 156.2 350.9C160.8 351.63 165.4 352.31 170 353C174.73 353.71 179.47 354.64 184.2 355.1C187.8 355.45 191.4 355.79 195 355.9C198.33 356 201.67 356.1 205 356.1C208.3 356.1 211.6 355.4 214.9 354.9C218.2 354.4 221.5 353.61 224.8 352.9C228.13 352.18 231.47 351.19 234.8 350.6C239.87 349.71 244.93 349.32 250 348.5C253.3 347.96 256.6 347.25 259.9 346.6C263.2 345.95 266.5 345.15 269.8 344.6C273.13 344.05 276.47 343.51 279.8 343.2C283.1 342.89 286.4 342.63 289.7 342.5C291.97 342.41 294.23 342.3 296.5 342.3L296.5 402.4C199.27 402.4 162.23 402.4 65 402.4C58.1 402.4 58.1 373.2 51.2 372.3Z" fill="#f0cfe3" stroke="#d96aaa" stroke-width="0.6" stroke-linejoin="round"/>
<path d="M66.6 373.4C73.55 372.53 73.55 344.5 80.5 344.5C90.33 343.98 100.17 343.8 110 343.8C111.93 343.8 113.87 344.08 115.8 344.3C117.7 344.51 119.6 344.77 121.5 345.2C125.37 346.07 129.23 348.43 133.1 350.7C136.17 352.5 139.23 354.96 142.3 357.6C145 359.92 147.7 363.07 150.4 365.7C153.1 368.33 155.8 371.46 158.5 373.4C160.67 374.96 162.83 375.91 165 377.2C168.2 379.1 171.4 381.25 174.6 383C177.8 384.75 181 386.73 184.2 387.8C187.4 388.87 190.6 389.7 193.8 390.2C197.33 390.75 200.87 391.4 204.4 391.4C207.9 391.4 211.4 391.01 214.9 390.6C218.2 390.21 221.5 389.17 224.8 388.1C228.13 387.02 231.47 385.46 234.8 383.6C238.1 381.75 241.4 379.41 244.7 376.3C248.13 373.07 251.57 366.68 255 362.8C256.63 360.95 258.27 359.43 259.9 357.8C261.57 356.13 263.23 354.38 264.9 352.9C266.53 351.45 268.17 349.91 269.8 348.9C271.47 347.87 273.13 347.07 274.8 346.4C276.47 345.73 278.13 345.01 279.8 344.7C283.1 344.08 286.4 343.71 289.7 343.5C291.97 343.36 294.23 343.2 296.5 343.2L296.5 402.4C205.57 402.4 170.93 402.4 80 402.4C73.3 402.4 73.3 374.27 66.6 373.4Z" fill="#f6e1c7" stroke="#ecb46c" stroke-width="0.6" stroke-linejoin="round"/>
<path d="M82.3 372.5C88.45 371.67 88.45 344.9 94.6 344.9C99.73 344.76 104.87 344.7 110 344.7C113.83 344.7 117.67 345.69 121.5 346.7C125.37 347.72 129.23 350.46 133.1 353C136.17 355.01 139.23 357.74 142.3 360.5C145 362.93 147.7 365.92 150.4 368.6C153.1 371.28 155.8 374.3 158.5 376.6C160.67 378.44 162.83 379.68 165 381.5C166.6 382.84 168.2 384.59 169.8 386C171.4 387.41 173 388.84 174.6 390C177.8 392.32 181 394.58 184.2 396C187.4 397.42 190.6 398.57 193.8 399.3C197.33 400.11 200.87 401.1 204.4 401.1C207.9 401.1 211.4 400.53 214.9 400C218.2 399.5 221.5 398.52 224.8 397.3C228.13 396.07 231.47 394.04 234.8 391.6C238.1 389.19 241.4 385.35 244.7 381.5C248 377.65 251.3 372.15 254.6 368C258.03 363.68 261.47 359.12 264.9 356C268.2 353 271.5 349.74 274.8 348.6C279.77 346.88 284.73 345.74 289.7 345.4C291.97 345.25 294.23 345.1 296.5 345.1L296.5 402.4C211.7 402.4 179.4 402.4 94.6 402.4C88.45 402.4 88.45 373.4 82.3 372.5Z" fill="url(#tpE)" stroke="#927e6a" stroke-width="0.6" stroke-linejoin="round"/>
<path d="M97 377.6C102.75 376.86 102.75 353 108.5 353C113.96 353 116.04 353 121.5 353C125.37 353 129.23 355.55 133.1 357.6C136.93 359.63 140.77 363.39 144.6 366.8C148.47 370.24 152.33 375.08 156.2 378.4C159 380.8 161.8 382.76 164.6 384.8C166.4 386.11 168.2 387.2 170 388.6C171.53 389.8 173.07 391.5 174.6 392.6C177.8 394.89 181 396.9 184.2 398.2C187.4 399.5 190.6 400.81 193.8 401.2C197.33 401.63 200.87 402 204.4 402C207.9 402 211.4 401.91 214.9 401.8C218.2 401.7 221.5 401.43 224.8 401C228.13 400.56 231.47 399.05 234.8 397.5C238.1 395.96 241.4 393.03 244.7 390.6C246.47 389.3 248.23 387.92 250 386.5C253.3 383.86 256.6 380.41 259.9 378.2C263.2 375.99 266.5 374.04 269.8 372.7C273.13 371.35 276.47 370.09 279.8 369.5C283.1 368.92 286.4 368.3 289.7 368.3C292.56 368.3 293.64 368.3 296.5 368.3L296.5 402.4C217.33 402.4 187.17 402.4 108 402.4C102.5 402.4 102.5 378.34 97 377.6Z" fill="#dfe9cf" stroke="#94c47c" stroke-width="0.6" stroke-linejoin="round"/>
<line x1="112.3" y1="342.2" x2="112.3" y2="402.4" stroke="#50505e" stroke-opacity="0.7" stroke-width="0.75"/>
<line x1="204.6" y1="342.2" x2="204.6" y2="402.4" stroke="#50505e" stroke-opacity="0.7" stroke-width="0.75"/>
<rect x="29.2" y="340.7" width="34.4" height="10.2" fill="#fff"/>
<text transform="translate(36.7 348.7) scale(0.955 1)" font-size="6.7" text-anchor="start" font-weight="bold" fill="#000" stroke="#000" stroke-width="0.15">SU654</text>
<text x="7.7" y="350.8" font-size="12.1" text-anchor="start" font-weight="bold" fill="#000">E</text>
<text transform="translate(26.2 372.1) rotate(-90)" font-size="8.2" text-anchor="middle" fill="#1e1e1e" stroke="#1e1e1e" stroke-width="0.22">Clonal Prevalence</text>
<text transform="translate(31 410.9) scale(0.95 1)" font-size="6.5" text-anchor="start" font-weight="normal" fill="#1e1e1e" stroke="#1e1e1e" stroke-width="0.24">T0</text>
<text transform="translate(112.5 410.9) scale(0.95 1)" font-size="6.5" text-anchor="middle" font-weight="normal" fill="#1e1e1e" stroke="#1e1e1e" stroke-width="0.24">Diagnosis</text>
<text transform="translate(204.6 410.9) scale(0.95 1)" font-size="6.5" text-anchor="middle" font-weight="normal" fill="#1e1e1e" stroke="#1e1e1e" stroke-width="0.24">Remission (Day 31)</text>
<text transform="translate(296.5 410.9) scale(0.95 1)" font-size="6.5" text-anchor="middle" font-weight="normal" fill="#1e1e1e" stroke="#1e1e1e" stroke-width="0.24">Relapse (Day 248)</text>
<line x1="223.6" y1="370.5" x2="209.9" y2="394.88" stroke="#5aa744" stroke-width="1.05"/>
<polygon points="207.7,398.8 207.97,393.22 212.33,395.67" fill="#5aa744"/>
<rect x="207.15" y="357.75" width="34.9" height="12.2" rx="1" fill="#e3eed8" stroke="#5aa744" stroke-width="1.15"/>
<text transform="translate(224.6 366.25) scale(0.97 1)" font-size="6.6" text-anchor="middle" font-weight="normal" fill="#2a2a2a" stroke="#2a2a2a" stroke-width="0.24">10 cells</text>
<circle cx="307.7" cy="347.5" r="2.35" fill="#c6c8dc" stroke="#8e96c6" stroke-width="0.75"/>
<text transform="translate(313 349.4) scale(0.965 1)" font-size="5.4" text-anchor="start" font-weight="normal" fill="#222" stroke="#222" stroke-width="0.1">Wild Type</text>
<circle cx="307.7" cy="356.6" r="2.35" fill="#f0cfe3" stroke="#d96aaa" stroke-width="0.75"/>
<text transform="translate(313 358.5) scale(0.965 1)" font-size="5.4" text-anchor="start" font-weight="normal" fill="#222" stroke="#222" stroke-width="0.1">DNMT3A</text>
<circle cx="307.7" cy="365.5" r="2.35" fill="#f6e1c7" stroke="#ecb46c" stroke-width="0.75"/>
<text transform="translate(313 367.4) scale(0.965 1)" font-size="5.4" text-anchor="start" font-weight="normal" fill="#222" stroke="#222" stroke-width="0.1">DNMT3A_IDH1</text>
<circle cx="307.7" cy="374.7" r="2.35" fill="#cec3b3" stroke="#927e6a" stroke-width="0.75"/>
<text transform="translate(313 376.6) scale(0.965 1)" font-size="5.4" text-anchor="start" font-weight="normal" fill="#222" stroke="#222" stroke-width="0.1">DNMT3A_</text>
<text transform="translate(313 382.8) scale(0.965 1)" font-size="5.4" text-anchor="start" font-weight="normal" fill="#222" stroke="#222" stroke-width="0.1">IDH1_NPM1</text>
<circle cx="307.7" cy="390.3" r="2.35" fill="#dfe9cf" stroke="#94c47c" stroke-width="0.75"/>
<text transform="translate(313 392.2) scale(0.965 1)" font-size="5.4" text-anchor="start" font-weight="normal" fill="#222" stroke="#222" stroke-width="0.1">DNMT3A_IDH1</text>
<text transform="translate(313 398.4) scale(0.965 1)" font-size="5.4" text-anchor="start" font-weight="normal" fill="#222" stroke="#222" stroke-width="0.1">_NPM1_NRAS</text>
<line x1="370.7" y1="343.9" x2="406" y2="343.9" stroke="#555" stroke-width="0.6"/>
<circle cx="377.2" cy="343.9" r="1.9" fill="#c6c8dc" stroke="#8e96c6" stroke-width="0.6"/>
<circle cx="383.9" cy="343.9" r="1.9" fill="#f0cfe3" stroke="#d96aaa" stroke-width="0.6"/>
<circle cx="390.7" cy="343.9" r="1.9" fill="#f6e1c7" stroke="#ecb46c" stroke-width="0.6"/>
<circle cx="397.2" cy="343.9" r="1.9" fill="#cec3b3" stroke="#927e6a" stroke-width="0.6"/>
<circle cx="403.9" cy="343.9" r="1.9" fill="#dfe9cf" stroke="#94c47c" stroke-width="0.6"/>
<rect x="432.8" y="341.7" width="2.4" height="15.6" fill="#c6c8dc"/>
<line x1="435.2" y1="341.7" x2="435.2" y2="357.3" stroke="#5e5e68" stroke-opacity="0.75" stroke-width="0.6"/>
<rect x="435.2" y="341.7" width="1.1" height="15.6" fill="#f0cfe3"/>
<line x1="436.3" y1="341.7" x2="436.3" y2="357.3" stroke="#5e5e68" stroke-opacity="0.75" stroke-width="0.6"/>
<rect x="436.3" y="341.7" width="1.1" height="15.6" fill="#f6e1c7"/>
<line x1="437.4" y1="341.7" x2="437.4" y2="357.3" stroke="#5e5e68" stroke-opacity="0.75" stroke-width="0.6"/>
<rect x="437.4" y="341.7" width="9.5" height="15.6" fill="#cec3b3"/>
<line x1="446.9" y1="341.7" x2="446.9" y2="357.3" stroke="#5e5e68" stroke-opacity="0.75" stroke-width="0.6"/>
<rect x="446.9" y="341.7" width="61" height="15.6" fill="#dfe9cf"/>
<rect x="432.8" y="341.7" width="75.1" height="15.6" fill="none" stroke="#85858f" stroke-width="0.8"/>
<rect x="432.8" y="360.3" width="18.6" height="15.6" fill="#c6c8dc"/>
<line x1="451.4" y1="360.3" x2="451.4" y2="375.9" stroke="#5e5e68" stroke-opacity="0.75" stroke-width="0.6"/>
<rect x="451.4" y="360.3" width="44" height="15.6" fill="#f0cfe3"/>
<line x1="495.4" y1="360.3" x2="495.4" y2="375.9" stroke="#5e5e68" stroke-opacity="0.75" stroke-width="0.6"/>
<rect x="495.4" y="360.3" width="12.5" height="15.6" fill="#f6e1c7"/>
<rect x="432.8" y="360.3" width="75.1" height="15.6" fill="none" stroke="#85858f" stroke-width="0.8"/>
<rect x="432.8" y="378.5" width="1.7" height="15.7" fill="#c6c8dc"/>
<line x1="434.5" y1="378.5" x2="434.5" y2="394.2" stroke="#5e5e68" stroke-opacity="0.75" stroke-width="0.6"/>
<rect x="434.5" y="378.5" width="2.7" height="15.7" fill="#f6e1c7"/>
<line x1="437.2" y1="378.5" x2="437.2" y2="394.2" stroke="#5e5e68" stroke-opacity="0.75" stroke-width="0.6"/>
<rect x="437.2" y="378.5" width="29.3" height="15.7" fill="#cec3b3"/>
<line x1="466.5" y1="378.5" x2="466.5" y2="394.2" stroke="#5e5e68" stroke-opacity="0.75" stroke-width="0.6"/>
<rect x="466.5" y="378.5" width="41.4" height="15.7" fill="#dfe9cf"/>
<rect x="432.8" y="378.5" width="75.1" height="15.7" fill="none" stroke="#85858f" stroke-width="0.8"/>
<line x1="429.5" y1="396.7" x2="511.5" y2="396.7" stroke="#111" stroke-width="1.25"/>
<line x1="432.8" y1="396.7" x2="432.8" y2="399.8" stroke="#111" stroke-width="1.0"/>
<text x="432.8" y="408.7" font-size="6.5" text-anchor="middle" font-weight="normal" fill="#222" stroke="#222" stroke-width="0.24">0.0</text>
<line x1="447.82" y1="396.7" x2="447.82" y2="399.8" stroke="#111" stroke-width="1.0"/>
<text x="447.82" y="408.7" font-size="6.5" text-anchor="middle" font-weight="normal" fill="#222" stroke="#222" stroke-width="0.24">0.2</text>
<line x1="462.84" y1="396.7" x2="462.84" y2="399.8" stroke="#111" stroke-width="1.0"/>
<text x="462.84" y="408.7" font-size="6.5" text-anchor="middle" font-weight="normal" fill="#222" stroke="#222" stroke-width="0.24">0.4</text>
<line x1="477.86" y1="396.7" x2="477.86" y2="399.8" stroke="#111" stroke-width="1.0"/>
<text x="477.86" y="408.7" font-size="6.5" text-anchor="middle" font-weight="normal" fill="#222" stroke="#222" stroke-width="0.24">0.6</text>
<line x1="492.88" y1="396.7" x2="492.88" y2="399.8" stroke="#111" stroke-width="1.0"/>
<text x="492.88" y="408.7" font-size="6.5" text-anchor="middle" font-weight="normal" fill="#222" stroke="#222" stroke-width="0.24">0.8</text>
<line x1="507.9" y1="396.7" x2="507.9" y2="399.8" stroke="#111" stroke-width="1.0"/>
<text x="507.9" y="408.7" font-size="6.5" text-anchor="middle" font-weight="normal" fill="#222" stroke="#222" stroke-width="0.24">1.0</text>
<rect x="30.2" y="427" width="265.5" height="60.5" fill="#f2f2f2"/>
<path d="M36.3 457.5C44.15 456.58 44.15 427 52 427C154.35 427 193.35 427 295.7 427L295.7 487.5C192.51 487.5 153.19 487.5 50 487.5C43.15 487.5 43.15 458.4 36.3 457.5Z" fill="#c6c8dc" stroke="#8e96c6" stroke-width="0.6" stroke-linejoin="round"/>
<path d="M55.4 457.5C62.7 456.68 62.7 430.2 70 430.2C83.33 430.2 96.67 430.22 110 430.3C113.83 430.32 117.67 430.55 121.5 430.9C125.37 431.25 129.23 433.34 133.1 435C136.93 436.65 140.77 439.3 144.6 441.3C148.47 443.32 152.33 445.4 156.2 447.1C159.13 448.39 162.07 449.29 165 450.6C169.5 452.61 174 455.56 178.5 457.6C182.97 459.63 187.43 462.22 191.9 463C196.07 463.73 200.23 464.4 204.4 464.4C209.2 464.4 214 462.97 218.8 461.7C224.2 460.28 229.6 457.03 235 454.3C237.83 452.87 240.67 451.1 243.5 449.6C247.97 447.23 252.43 444.92 256.9 442.8C261.4 440.67 265.9 438.52 270.4 436.8C274.87 435.09 279.33 433.36 283.8 432.3C287.77 431.36 291.73 430.1 295.7 430.1L295.7 487.5C201.75 487.5 165.95 487.5 72 487.5C63.7 487.5 63.7 458.4 55.4 457.5Z" fill="#f0cfe3" stroke="#d96aaa" stroke-width="0.6" stroke-linejoin="round"/>
<path d="M73.8 457.5C80.9 456.76 80.9 432.7 88 432.7C97.24 432.7 100.76 432.7 110 432.7C113.83 432.7 117.67 432.9 121.5 433.2C125.37 433.5 129.23 435.6 133.1 437.8C136.93 439.98 140.77 445.22 144.6 449.4C148.47 453.62 152.33 459.21 156.2 463.2C158.87 465.95 161.53 468.71 164.2 470.6C166.13 471.97 168.07 472.74 170 474C172.83 475.84 175.67 478.84 178.5 480.3C182.97 482.6 187.43 484.63 191.9 485.4C196.07 486.12 200.23 486.8 204.4 486.8C209.2 486.8 214 485.87 218.8 485C222.53 484.33 226.27 483.05 230 481.6C234.5 479.86 239 477.21 243.5 474.2C247.97 471.21 252.43 466.81 256.9 462.7C261.4 458.56 265.9 453.56 270.4 449.3C274.87 445.08 279.33 440.11 283.8 437.2C287.77 434.62 291.73 431.1 295.7 431.1L295.7 487.5C208.47 487.5 175.23 487.5 88 487.5C80.9 487.5 80.9 458.4 73.8 457.5Z" fill="#f6e1c7" stroke="#ecb46c" stroke-width="0.6" stroke-linejoin="round"/>
<path d="M93.2 474.6C100.1 474.23 100.1 462.1 107 462.1C113.09 462.1 115.41 462.1 121.5 462.1C125.37 462.1 129.23 463.03 133.1 463.8C136.93 464.56 140.77 465.91 144.6 467.3C148.47 468.7 152.33 470.82 156.2 472.5C159.13 473.77 162.07 474.94 165 476.2C166.67 476.92 168.33 477.64 170 478.4C172.83 479.7 175.67 481.48 178.5 482.5C182.97 484.1 187.43 485.61 191.9 486.2C196.07 486.75 200.23 487.3 204.4 487.3C209.2 487.3 214 486.37 218.8 485.5C222.53 484.83 226.27 483.55 230 482.1C234.5 480.36 239 477.71 243.5 474.7C247.97 471.71 252.43 467.31 256.9 463.2C261.4 459.06 265.9 454.06 270.4 449.8C274.87 445.58 279.33 440.61 283.8 437.7C287.77 435.12 291.73 431.6 295.7 431.6L295.7 487.5C216.03 487.5 185.67 487.5 106 487.5C99.6 487.5 99.6 474.99 93.2 474.6Z" fill="#dfe9cf" stroke="#94c47c" stroke-width="0.6" stroke-linejoin="round"/>
<line x1="112.5" y1="427" x2="112.5" y2="487.5" stroke="#50505e" stroke-opacity="0.7" stroke-width="0.75"/>
<line x1="204.5" y1="427" x2="204.5" y2="487.5" stroke="#50505e" stroke-opacity="0.7" stroke-width="0.75"/>
<rect x="29.2" y="425.5" width="34.4" height="10.7" fill="#fff"/>
<text transform="translate(36.7 433.5) scale(0.955 1)" font-size="6.7" text-anchor="start" font-weight="bold" fill="#000" stroke="#000" stroke-width="0.15">SU674</text>
<text x="7.7" y="432.5" font-size="12.1" text-anchor="start" font-weight="bold" fill="#000">F</text>
<text transform="translate(31 496) scale(0.95 1)" font-size="6.5" text-anchor="start" font-weight="normal" fill="#1e1e1e" stroke="#1e1e1e" stroke-width="0.24">T0</text>
<text transform="translate(111.9 496) scale(0.95 1)" font-size="6.5" text-anchor="middle" font-weight="normal" fill="#1e1e1e" stroke="#1e1e1e" stroke-width="0.24">Diagnosis</text>
<text transform="translate(204.5 496) scale(0.95 1)" font-size="6.5" text-anchor="middle" font-weight="normal" fill="#1e1e1e" stroke="#1e1e1e" stroke-width="0.24">Remission (Day 27)</text>
<text transform="translate(295.5 496) scale(0.95 1)" font-size="6.5" text-anchor="middle" font-weight="normal" fill="#1e1e1e" stroke="#1e1e1e" stroke-width="0.24">Relapse (Day 416)</text>
<line x1="223.6" y1="455.4" x2="209.85" y2="480.65" stroke="#ffffff" stroke-width="1.05"/>
<polygon points="207.7,484.6 207.9,479.01 212.29,481.4" fill="#ffffff"/>
<rect x="207.15" y="442.85" width="34.9" height="12" rx="1" fill="#2d4a7d" stroke="#ffffff" stroke-width="1.15"/>
<text transform="translate(224.6 451.25) scale(0.97 1)" font-size="6.6" text-anchor="middle" font-weight="normal" fill="#f0f2f8" stroke="#f0f2f8" stroke-width="0.24">0 cells</text>
<circle cx="307" cy="436.8" r="2.35" fill="#c6c8dc" stroke="#8e96c6" stroke-width="0.75"/>
<text transform="translate(312.5 438.7) scale(0.965 1)" font-size="5.4" text-anchor="start" font-weight="normal" fill="#222" stroke="#222" stroke-width="0.1">Wild Type</text>
<circle cx="307" cy="445.9" r="2.35" fill="#f0cfe3" stroke="#d96aaa" stroke-width="0.75"/>
<text transform="translate(312.5 447.8) scale(0.965 1)" font-size="5.4" text-anchor="start" font-weight="normal" fill="#222" stroke="#222" stroke-width="0.1">DNMT3A</text>
<circle cx="307" cy="454.8" r="2.35" fill="#f6e1c7" stroke="#ecb46c" stroke-width="0.75"/>
<text transform="translate(312.5 456.7) scale(0.965 1)" font-size="5.4" text-anchor="start" font-weight="normal" fill="#222" stroke="#222" stroke-width="0.1">DNMT3A_NPM1</text>
<circle cx="307" cy="463.7" r="2.35" fill="#dfe9cf" stroke="#94c47c" stroke-width="0.75"/>
<text transform="translate(312.5 465.6) scale(0.965 1)" font-size="5.4" text-anchor="start" font-weight="normal" fill="#222" stroke="#222" stroke-width="0.1">DNMT3A_NPM1</text>
<text transform="translate(312.5 471.8) scale(0.965 1)" font-size="5.4" text-anchor="start" font-weight="normal" fill="#222" stroke="#222" stroke-width="0.1">_FLT3ITD</text>
<line x1="374.3" y1="429.3" x2="402" y2="429.3" stroke="#555" stroke-width="0.6"/>
<circle cx="380.6" cy="429.3" r="1.9" fill="#c6c8dc" stroke="#8e96c6" stroke-width="0.6"/>
<circle cx="387.3" cy="429.3" r="1.9" fill="#f0cfe3" stroke="#d96aaa" stroke-width="0.6"/>
<circle cx="393.8" cy="429.3" r="1.9" fill="#f6e1c7" stroke="#ecb46c" stroke-width="0.6"/>
<circle cx="400.3" cy="429.3" r="1.9" fill="#dfe9cf" stroke="#94c47c" stroke-width="0.6"/>
<rect x="432.8" y="426.1" width="3.4" height="15.6" fill="#c6c8dc"/>
<line x1="436.2" y1="426.1" x2="436.2" y2="441.7" stroke="#5e5e68" stroke-opacity="0.75" stroke-width="0.6"/>
<rect x="436.2" y="426.1" width="4.1" height="15.6" fill="#f0cfe3"/>
<line x1="440.3" y1="426.1" x2="440.3" y2="441.7" stroke="#5e5e68" stroke-opacity="0.75" stroke-width="0.6"/>
<rect x="440.3" y="426.1" width="35.9" height="15.6" fill="#f6e1c7"/>
<line x1="476.2" y1="426.1" x2="476.2" y2="441.7" stroke="#5e5e68" stroke-opacity="0.75" stroke-width="0.6"/>
<rect x="476.2" y="426.1" width="31.7" height="15.6" fill="#dfe9cf"/>
<rect x="432.8" y="426.1" width="75.1" height="15.6" fill="none" stroke="#85858f" stroke-width="0.8"/>
<rect x="432.8" y="444.7" width="49.9" height="15.1" fill="#c6c8dc"/>
<line x1="482.7" y1="444.7" x2="482.7" y2="459.8" stroke="#5e5e68" stroke-opacity="0.75" stroke-width="0.6"/>
<rect x="482.7" y="444.7" width="25.2" height="15.1" fill="#f0cfe3"/>
<rect x="432.8" y="444.7" width="75.1" height="15.1" fill="none" stroke="#85858f" stroke-width="0.8"/>
<rect x="432.8" y="462.9" width="3.4" height="15.3" fill="#c6c8dc"/>
<line x1="436.2" y1="462.9" x2="436.2" y2="478.2" stroke="#5e5e68" stroke-opacity="0.75" stroke-width="0.6"/>
<rect x="436.2" y="462.9" width="3.4" height="15.3" fill="#f6e1c7"/>
<line x1="439.6" y1="462.9" x2="439.6" y2="478.2" stroke="#5e5e68" stroke-opacity="0.75" stroke-width="0.6"/>
<rect x="439.6" y="462.9" width="68.3" height="15.3" fill="#dfe9cf"/>
<rect x="432.8" y="462.9" width="75.1" height="15.3" fill="none" stroke="#85858f" stroke-width="0.8"/>
<line x1="429.5" y1="481.1" x2="511.5" y2="481.1" stroke="#111" stroke-width="1.25"/>
<line x1="432.8" y1="481.1" x2="432.8" y2="484.2" stroke="#111" stroke-width="1.0"/>
<text x="432.8" y="493" font-size="6.5" text-anchor="middle" font-weight="normal" fill="#222" stroke="#222" stroke-width="0.24">0.0</text>
<line x1="447.82" y1="481.1" x2="447.82" y2="484.2" stroke="#111" stroke-width="1.0"/>
<text x="447.82" y="493" font-size="6.5" text-anchor="middle" font-weight="normal" fill="#222" stroke="#222" stroke-width="0.24">0.2</text>
<line x1="462.84" y1="481.1" x2="462.84" y2="484.2" stroke="#111" stroke-width="1.0"/>
<text x="462.84" y="493" font-size="6.5" text-anchor="middle" font-weight="normal" fill="#222" stroke="#222" stroke-width="0.24">0.4</text>
<line x1="477.86" y1="481.1" x2="477.86" y2="484.2" stroke="#111" stroke-width="1.0"/>
<text x="477.86" y="493" font-size="6.5" text-anchor="middle" font-weight="normal" fill="#222" stroke="#222" stroke-width="0.24">0.6</text>
<line x1="492.88" y1="481.1" x2="492.88" y2="484.2" stroke="#111" stroke-width="1.0"/>
<text x="492.88" y="493" font-size="6.5" text-anchor="middle" font-weight="normal" fill="#222" stroke="#222" stroke-width="0.24">0.8</text>
<line x1="507.9" y1="481.1" x2="507.9" y2="484.2" stroke="#111" stroke-width="1.0"/>
<text x="507.9" y="493" font-size="6.5" text-anchor="middle" font-weight="normal" fill="#222" stroke="#222" stroke-width="0.24">1.0</text>
<text transform="translate(429.6 433.9) rotate(-90)" font-size="6.3" text-anchor="middle" fill="#1e1e1e" stroke="#1e1e1e" stroke-width="0.2">Dx</text>
<text transform="translate(429.6 452.2) rotate(-90)" font-size="6.3" text-anchor="middle" fill="#1e1e1e" stroke="#1e1e1e" stroke-width="0.2">Rem</text>
<text transform="translate(429.6 470.5) rotate(-90)" font-size="6.3" text-anchor="middle" fill="#1e1e1e" stroke="#1e1e1e" stroke-width="0.2">Rel</text>
<rect x="31.4" y="508.5" width="263.4" height="60.5" fill="#f2f2f2"/>
<path d="M40.1 538.8C55.9 537.59 66.44 508.5 84 508.5C172.54 508.5 206.26 508.5 294.8 508.5L294.8 569C206.26 569 172.54 569 84 569C66.44 569 55.9 540.01 40.1 538.8Z" fill="#c6c8dc" stroke="#8e96c6" stroke-width="0.6" stroke-linejoin="round"/>
<path d="M90.6 548.8C103.45 546.38 118.87 528.6 142 528.6C145 528.6 148 528.64 151 528.7C154 528.76 157 529.44 160 529.8C164.5 530.34 169 530.65 173.5 531.4C177.97 532.15 182.43 533.73 186.9 535.2C191.4 536.68 195.9 538.59 200.4 540.5C204.87 542.4 209.33 544.64 213.8 546.7C218.3 548.77 222.8 550.98 227.3 552.9C231.8 554.82 236.3 556.64 240.8 558.3C245.27 559.95 249.73 561.69 254.2 562.9C258.7 564.11 263.2 565.2 267.7 565.9C272.2 566.6 276.7 567.15 281.2 567.5C285.73 567.86 290.27 568.3 294.8 568.3L294.8 569C228.52 569 203.28 569 137 569C116.12 569 102.2 551.22 90.6 548.8Z" fill="#dfe9cf" stroke="#94c47c" stroke-width="0.6" stroke-linejoin="round"/>
<line x1="164.3" y1="508.5" x2="164.3" y2="569" stroke="#50505e" stroke-opacity="0.7" stroke-width="0.75"/>
<rect x="30.4" y="507" width="33.2" height="11" fill="#fff"/>
<text transform="translate(36.7 515) scale(0.955 1)" font-size="6.7" text-anchor="start" font-weight="bold" fill="#000" stroke="#000" stroke-width="0.15">SU564</text>
<text x="7.7" y="518" font-size="12.1" text-anchor="start" font-weight="bold" fill="#000">G</text>
<text transform="translate(31.5 578.2) scale(0.95 1)" font-size="6.5" text-anchor="start" font-weight="normal" fill="#1e1e1e" stroke="#1e1e1e" stroke-width="0.24">T0</text>
<text transform="translate(164 578.2) scale(0.95 1)" font-size="6.5" text-anchor="middle" font-weight="normal" fill="#1e1e1e" stroke="#1e1e1e" stroke-width="0.24">Diagnosis</text>
<text transform="translate(294.6 578.2) scale(0.95 1)" font-size="6.5" text-anchor="middle" font-weight="normal" fill="#1e1e1e" stroke="#1e1e1e" stroke-width="0.24">Remission (Day 35)</text>
<line x1="275.3" y1="537.6" x2="289.51" y2="563.07" stroke="#5aa744" stroke-width="1.05"/>
<polygon points="291.7,567 287.08,563.85 291.45,561.42" fill="#5aa744"/>
<rect x="256.45" y="524.25" width="35.4" height="12.8" rx="1" fill="#e3eed8" stroke="#5aa744" stroke-width="1.15"/>
<text transform="translate(274.15 533.05) scale(0.97 1)" font-size="6.6" text-anchor="middle" font-weight="normal" fill="#2a2a2a" stroke="#2a2a2a" stroke-width="0.24">6 cells</text>
<circle cx="306.5" cy="533.2" r="2.35" fill="#c6c8dc" stroke="#8e96c6" stroke-width="0.75"/>
<text transform="translate(311.8 535.1) scale(0.965 1)" font-size="5.4" text-anchor="start" font-weight="normal" fill="#222" stroke="#222" stroke-width="0.1">Wild Type</text>
<circle cx="306.5" cy="542.8" r="2.35" fill="#dfe9cf" stroke="#94c47c" stroke-width="0.75"/>
<text transform="translate(311.8 544.7) scale(0.965 1)" font-size="5.4" text-anchor="start" font-weight="normal" fill="#222" stroke="#222" stroke-width="0.1">KIT</text>
<line x1="374.3" y1="510.6" x2="400.8" y2="510.6" stroke="#555" stroke-width="0.6"/>
<circle cx="387.3" cy="510.6" r="1.9" fill="#c6c8dc" stroke="#8e96c6" stroke-width="0.6"/>
<circle cx="400.3" cy="510.6" r="1.9" fill="#dfe9cf" stroke="#94c47c" stroke-width="0.6"/>
<rect x="432.8" y="508.1" width="24.6" height="24.2" fill="#c6c8dc"/>
<line x1="457.4" y1="508.1" x2="457.4" y2="532.3" stroke="#5e5e68" stroke-opacity="0.75" stroke-width="0.6"/>
<rect x="457.4" y="508.1" width="50.5" height="24.2" fill="#dfe9cf"/>
<rect x="432.8" y="508.1" width="75.1" height="24.2" fill="none" stroke="#85858f" stroke-width="0.8"/>
<rect x="432.8" y="536.4" width="75.1" height="24.2" fill="#c6c8dc"/>
<rect x="432.8" y="536.4" width="75.1" height="24.2" fill="none" stroke="#85858f" stroke-width="0.8"/>
<line x1="429.5" y1="563.4" x2="511.5" y2="563.4" stroke="#111" stroke-width="1.25"/>
<line x1="432.8" y1="563.4" x2="432.8" y2="566.5" stroke="#111" stroke-width="1.0"/>
<text x="432.8" y="574.4" font-size="6.5" text-anchor="middle" font-weight="normal" fill="#222" stroke="#222" stroke-width="0.24">0.0</text>
<line x1="447.82" y1="563.4" x2="447.82" y2="566.5" stroke="#111" stroke-width="1.0"/>
<text x="447.82" y="574.4" font-size="6.5" text-anchor="middle" font-weight="normal" fill="#222" stroke="#222" stroke-width="0.24">0.2</text>
<line x1="462.84" y1="563.4" x2="462.84" y2="566.5" stroke="#111" stroke-width="1.0"/>
<text x="462.84" y="574.4" font-size="6.5" text-anchor="middle" font-weight="normal" fill="#222" stroke="#222" stroke-width="0.24">0.4</text>
<line x1="477.86" y1="563.4" x2="477.86" y2="566.5" stroke="#111" stroke-width="1.0"/>
<text x="477.86" y="574.4" font-size="6.5" text-anchor="middle" font-weight="normal" fill="#222" stroke="#222" stroke-width="0.24">0.6</text>
<line x1="492.88" y1="563.4" x2="492.88" y2="566.5" stroke="#111" stroke-width="1.0"/>
<text x="492.88" y="574.4" font-size="6.5" text-anchor="middle" font-weight="normal" fill="#222" stroke="#222" stroke-width="0.24">0.8</text>
<line x1="507.9" y1="563.4" x2="507.9" y2="566.5" stroke="#111" stroke-width="1.0"/>
<text x="507.9" y="574.4" font-size="6.5" text-anchor="middle" font-weight="normal" fill="#222" stroke="#222" stroke-width="0.24">1.0</text>
<text transform="translate(428.6 520.1) rotate(-90)" font-size="5.9" text-anchor="middle" fill="#1e1e1e" stroke="#1e1e1e" stroke-width="0.2">Dx</text>
<text transform="translate(428.6 548.5) rotate(-90)" font-size="5.9" text-anchor="middle" fill="#1e1e1e" stroke="#1e1e1e" stroke-width="0.2">Rem</text>
<rect x="30.8" y="590.3" width="239.7" height="60.5" fill="#f2f2f2"/>
<path d="M36.5 620.6C46.12 617.57 50.25 590.3 64 590.3C150.73 590.3 183.77 590.3 270.5 590.3L270.5 650.8C183.77 650.8 150.73 650.8 64 650.8C50.25 650.8 46.12 623.62 36.5 620.6Z" fill="#c6c8dc" stroke="#8e96c6" stroke-width="0.6" stroke-linejoin="round"/>
<path d="M72.3 649.4C81.83 649.4 85.47 648.7 95 648.7C130 648.7 165 648.76 200 648.9C213.33 648.95 226.67 649.48 240 649.6C250.17 649.7 260.33 649.8 270.5 649.8L270.5 650.8C196.79 650.8 168.71 650.8 95 650.8C85.47 650.8 81.83 649.6 72.3 649.6Z" fill="#f8e7b4" stroke="#eec45a" stroke-width="0.6" stroke-linejoin="round"/>
<path d="M72.3 623.7C84.58 621.8 87.65 600 103 600C114.43 600 125.87 600.06 137.3 600.2C143.97 600.28 150.63 601.53 157.3 602.8C163.07 603.9 168.83 606.35 174.6 608.8C180.37 611.25 186.13 614.86 191.9 618.3C197.67 621.74 203.43 625.86 209.2 629.6C213.23 632.22 217.27 635.16 221.3 637.4C224.2 639.01 227.1 640.57 230 641.7C235.97 644.02 241.93 646.31 247.9 647.2C251.43 647.73 254.97 648.16 258.5 648.3C262.5 648.46 266.5 648.6 270.5 648.6L270.5 648.7C214.67 648.7 158.83 648.67 103 648.5C87.65 648.5 84.58 625.68 72.3 623.7Z" fill="#ccbfd5" stroke="#9a7ca8" stroke-width="0.6" stroke-linejoin="round"/>
<path d="M106.3 624.4C115.78 623.5 118.15 615.4 130 615.4C136.72 615.4 139.28 615.4 146 615.4C149.77 615.4 153.53 616.03 157.3 616.6C163.07 617.48 168.83 619.72 174.6 621.8C180.37 623.88 186.13 626.86 191.9 629.6C197.67 632.34 203.43 635.64 209.2 638.3C213.23 640.16 217.27 642.13 221.3 643.5C224.2 644.49 227.1 645.49 230 646C235 646.88 240 647.59 245 647.8C253.5 648.16 262 648.4 270.5 648.4L270.5 648.5C263.67 648.5 256.83 648.31 250 648.1C243.33 647.9 236.67 647.37 230 646.8C223.07 646.21 216.13 645.34 209.2 644.2C203.43 643.26 197.67 641.5 191.9 640.2C186.13 638.9 180.37 637.27 174.6 636.4C168.83 635.53 163.07 634.8 157.3 634.4C148.87 633.82 140.43 633.9 132 633.2C119.15 633.2 116.58 625.28 106.3 624.4Z" fill="#dfe9cf" stroke="#94c47c" stroke-width="0.6" stroke-linejoin="round"/>
<path d="M105.2 637.1C115.12 636.73 117.6 633.4 130 633.4C139.1 633.4 148.2 633.94 157.3 634.5C163.07 634.86 168.83 635.63 174.6 636.5C180.37 637.37 186.13 639 191.9 640.3C197.67 641.6 203.43 643.36 209.2 644.3C216.13 645.44 223.07 646.34 230 646.9C236.67 647.44 243.33 647.9 250 648.1C256.83 648.3 263.67 648.5 270.5 648.5L270.5 648.6C263.67 648.6 256.83 648.4 250 648.2C243.33 648.01 236.67 647.59 230 647.1C222.93 646.59 215.87 645.58 208.8 644.8C199.83 643.81 190.87 642.41 181.9 641.8C174.6 641.3 167.3 640.86 160 640.7C150 640.48 140 640.55 130 640.3C117.6 640.3 115.12 637.42 105.2 637.1Z" fill="#cbd5ca" stroke="#83a088" stroke-width="0.6" stroke-linejoin="round"/>
<path d="M105.2 641.3C116.04 641.3 120.16 641.3 131 641.3C137.33 641.3 143.67 641.39 150 641.51C158.33 641.66 166.67 642.64 175 643.36C183.33 644.08 191.67 645.22 200 645.94C208.33 646.66 216.67 647.67 225 647.79C233.33 647.92 241.67 648 250 648C258.61 648 261.89 648 270.5 648L270.5 648.4C261.89 648.4 258.61 648.4 250 648.4C241.67 648.4 233.33 648.34 225 648.24C216.67 648.15 208.33 647.38 200 646.83C191.67 646.29 183.33 645.41 175 644.87C166.67 644.32 158.33 643.57 150 643.46C143.67 643.37 137.33 643.3 131 643.3C120.16 643.3 116.04 643.3 105.2 643.3Z" fill="#e9e5f7" stroke="#b4acdf" stroke-width="0.5" stroke-linejoin="round"/>
<path d="M105.2 643.5C116.04 643.5 120.16 643.5 131 643.5C137.33 643.5 143.67 643.56 150 643.65C158.33 643.75 166.67 644.44 175 644.94C183.33 645.45 191.67 646.25 200 646.76C208.33 647.26 216.67 647.97 225 648.05C233.33 648.14 241.67 648.2 250 648.2C258.61 648.2 261.89 648.2 270.5 648.2L270.5 648.6C261.89 648.6 258.61 648.6 250 648.6C241.67 648.6 233.33 648.55 225 648.47C216.67 648.39 208.33 647.76 200 647.31C191.67 646.86 183.33 646.14 175 645.69C166.67 645.24 158.33 644.63 150 644.53C143.67 644.46 137.33 644.4 131 644.4C120.16 644.4 116.04 644.4 105.2 644.4Z" fill="#cfc3b4" stroke="#a08e7c" stroke-width="0.4" stroke-linejoin="round"/>
<path d="M105.2 644.5C116.04 644.5 120.16 644.5 131 644.5C137.33 644.5 143.67 644.55 150 644.62C158.33 644.7 166.67 645.26 175 645.67C183.33 646.08 191.67 646.72 200 647.13C208.33 647.54 216.67 648.11 225 648.18C233.33 648.25 241.67 648.3 250 648.3C258.61 648.3 261.89 648.3 270.5 648.3L270.5 648.7C261.89 648.7 258.61 648.7 250 648.7C241.67 648.7 233.33 648.66 225 648.6C216.67 648.54 208.33 648.04 200 647.69C191.67 647.33 183.33 646.77 175 646.41C166.67 646.06 158.33 645.58 150 645.5C143.67 645.44 137.33 645.4 131 645.4C120.16 645.4 116.04 645.4 105.2 645.4Z" fill="#cbd6cb" stroke="#98ad9c" stroke-width="0.4" stroke-linejoin="round"/>
<path d="M105.2 645.5C116.04 645.5 120.16 645.5 131 645.5C137.33 645.5 143.67 645.54 150 645.59C158.33 645.66 166.67 646.08 175 646.39C183.33 646.7 191.67 647.2 200 647.51C208.33 647.82 216.67 648.26 225 648.31C233.33 648.36 241.67 648.4 250 648.4C258.61 648.4 261.89 648.4 270.5 648.4L270.5 648.8C261.89 648.8 258.61 648.8 250 648.8C241.67 648.8 233.33 648.77 225 648.73C216.67 648.68 208.33 648.32 200 648.06C191.67 647.81 183.33 647.39 175 647.14C166.67 646.88 158.33 646.53 150 646.47C143.67 646.43 137.33 646.4 131 646.4C120.16 646.4 116.04 646.4 105.2 646.4Z" fill="#dcdce0" stroke="#a8a8b0" stroke-width="0.4" stroke-linejoin="round"/>
<path d="M105.2 646.5C116.04 646.5 120.16 646.5 131 646.5C137.33 646.5 143.67 646.53 150 646.57C158.33 646.62 166.67 646.94 175 647.18C183.33 647.41 191.67 647.79 200 648.02C208.33 648.26 216.67 648.59 225 648.63C233.33 648.67 241.67 648.7 250 648.7C258.61 648.7 261.89 648.7 270.5 648.7L270.5 649.1C261.89 649.1 258.61 649.1 250 649.1C241.67 649.1 233.33 649.08 225 649.05C216.67 649.02 208.33 648.76 200 648.58C191.67 648.4 183.33 648.1 175 647.92C166.67 647.74 158.33 647.49 150 647.45C143.67 647.42 137.33 647.4 131 647.4C120.16 647.4 116.04 647.4 105.2 647.4Z" fill="#eebbbb" stroke="#c85060" stroke-width="0.5" stroke-linejoin="round"/>
<path d="M105.2 647.5C116.04 647.5 120.16 647.5 131 647.5C137.33 647.5 143.67 647.52 150 647.55C158.33 647.59 166.67 647.84 175 648.02C183.33 648.2 191.67 648.5 200 648.68C208.33 648.86 216.67 649.12 225 649.15C233.33 649.18 241.67 649.2 250 649.2C258.61 649.2 261.89 649.2 270.5 649.2L270.5 649.6C261.89 649.6 258.61 649.6 250 649.6C241.67 649.6 233.33 649.59 225 649.56C216.67 649.54 208.33 649.36 200 649.23C191.67 649.1 183.33 648.9 175 648.77C166.67 648.64 158.33 648.46 150 648.44C143.67 648.42 137.33 648.4 131 648.4C120.16 648.4 116.04 648.4 105.2 648.4Z" fill="#f7dcb8" stroke="#e8a060" stroke-width="0.45" stroke-linejoin="round"/>
<path d="M104.6 646.3 L110 646.6 L110 647.4 L104.6 647.5Z" fill="#c83c3c"/>
<line x1="132" y1="590.3" x2="132" y2="650.8" stroke="#50505e" stroke-opacity="0.7" stroke-width="0.75"/>
<rect x="29.8" y="588.8" width="33.8" height="10.3" fill="#fff"/>
<text transform="translate(36.7 596.8) scale(0.955 1)" font-size="6.7" text-anchor="start" font-weight="bold" fill="#000" stroke="#000" stroke-width="0.15">SU290</text>
<text x="7.7" y="600.1" font-size="12.1" text-anchor="start" font-weight="bold" fill="#000">H</text>
<text transform="translate(26.2 626) rotate(-90)" font-size="8.2" text-anchor="middle" fill="#1e1e1e" stroke="#1e1e1e" stroke-width="0.22">Clonal Prevalence</text>
<text transform="translate(31.5 659.4) scale(0.95 1)" font-size="6.5" text-anchor="start" font-weight="normal" fill="#1e1e1e" stroke="#1e1e1e" stroke-width="0.24">T0</text>
<text transform="translate(132 659.4) scale(0.95 1)" font-size="6.5" text-anchor="middle" font-weight="normal" fill="#1e1e1e" stroke="#1e1e1e" stroke-width="0.24">Diagnosis</text>
<text transform="translate(270.5 659.8) scale(0.95 1)" font-size="6.5" text-anchor="middle" font-weight="normal" fill="#1e1e1e" stroke="#1e1e1e" stroke-width="0.24">Remission</text>
<text transform="translate(270.8 667.3) scale(0.95 1)" font-size="6.5" text-anchor="middle" font-weight="normal" fill="#1e1e1e" stroke="#1e1e1e" stroke-width="0.24">(Day 30)</text>
<line x1="251" y1="620.3" x2="265.68" y2="644.74" stroke="#6b3e78" stroke-width="1.05"/>
<polygon points="268,648.6 263.28,645.6 267.57,643.03" fill="#6b3e78"/>
<rect x="232.95" y="606.75" width="35.5" height="13" rx="1" fill="#ddcde2" stroke="#6b3e78" stroke-width="1.15"/>
<text transform="translate(250.7 615.65) scale(0.97 1)" font-size="6.6" text-anchor="middle" font-weight="normal" fill="#2a2a2a" stroke="#2a2a2a" stroke-width="0.24">2 cells</text>
<circle cx="292.1" cy="593.1" r="2.35" fill="#c6c8dc" stroke="#8e96c6" stroke-width="0.75"/>
<text transform="translate(298 595) scale(0.965 1)" font-size="5.4" text-anchor="start" font-weight="normal" fill="#222" stroke="#222" stroke-width="0.1">Wild Type</text>
<circle cx="292.1" cy="602" r="2.35" fill="#ccbfd5" stroke="#9a7ca8" stroke-width="0.75"/>
<text transform="translate(298 603.9) scale(0.965 1)" font-size="5.4" text-anchor="start" font-weight="normal" fill="#222" stroke="#222" stroke-width="0.1">GATA2</text>
<circle cx="292.1" cy="611.1" r="2.35" fill="#e6d6c3" stroke="#c9a47c" stroke-width="0.75"/>
<text transform="translate(298 613) scale(0.965 1)" font-size="5.4" text-anchor="start" font-weight="normal" fill="#222" stroke="#222" stroke-width="0.1">FLT3ITD8286</text>
<circle cx="292.1" cy="620" r="2.35" fill="#f0cfe3" stroke="#d96aaa" stroke-width="0.75"/>
<text transform="translate(298 621.9) scale(0.965 1)" font-size="5.4" text-anchor="start" font-weight="normal" fill="#222" stroke="#222" stroke-width="0.1">FLT3ITD8315</text>
<circle cx="292.1" cy="628.9" r="2.35" fill="#dfe9cf" stroke="#94c47c" stroke-width="0.75"/>
<text transform="translate(298 630.8) scale(0.965 1)" font-size="5.4" text-anchor="start" font-weight="normal" fill="#222" stroke="#222" stroke-width="0.1">GATA2_NRASG12D</text>
<circle cx="292.1" cy="638" r="2.35" fill="#cbd5ca" stroke="#83a088" stroke-width="0.75"/>
<text transform="translate(298 639.9) scale(0.965 1)" font-size="5.4" text-anchor="start" font-weight="normal" fill="#222" stroke="#222" stroke-width="0.1">GATA2_FLT3ITD8286</text>
<circle cx="292.1" cy="646.9" r="2.35" fill="#e6e2f6" stroke="#aba3dc" stroke-width="0.75"/>
<text transform="translate(298 648.8) scale(0.965 1)" font-size="5.4" text-anchor="start" font-weight="normal" fill="#222" stroke="#222" stroke-width="0.1">GATA2_FLT3ITD8315</text>
<circle cx="292.1" cy="656.1" r="2.35" fill="#cdbfb0" stroke="#8d7a66" stroke-width="0.75"/>
<text transform="translate(298 658) scale(0.965 1)" font-size="5.4" text-anchor="start" font-weight="normal" fill="#222" stroke="#222" stroke-width="0.1">GATA2_NRASG13D</text>
<circle cx="292.1" cy="665" r="2.35" fill="#eef3e6" stroke="#c6d8b8" stroke-width="0.75"/>
<text transform="translate(298 666.9) scale(0.965 1)" font-size="5.4" text-anchor="start" font-weight="normal" fill="#222" stroke="#222" stroke-width="0.1">GATA2_NRASQ61R</text>
<circle cx="360" cy="638" r="2.35" fill="#d6d7dc" stroke="#9597a0" stroke-width="0.75"/>
<text transform="translate(365.6 639.9) scale(0.965 1)" font-size="5.4" text-anchor="start" font-weight="normal" fill="#222" stroke="#222" stroke-width="0.1">GATA2_KITD816H</text>
<circle cx="360" cy="646.9" r="2.35" fill="#efc6c6" stroke="#cc5555" stroke-width="0.75"/>
<text transform="translate(365.6 648.8) scale(0.965 1)" font-size="5.4" text-anchor="start" font-weight="normal" fill="#222" stroke="#222" stroke-width="0.1">GATA2_NRASG12C</text>
<circle cx="360" cy="656.1" r="2.35" fill="#f6e1c7" stroke="#ecb46c" stroke-width="0.75"/>
<text transform="translate(365.6 658) scale(0.965 1)" font-size="5.4" text-anchor="start" font-weight="normal" fill="#222" stroke="#222" stroke-width="0.1">GATA2_NRASQ61H</text>
<circle cx="360" cy="665" r="2.35" fill="#f8e7b4" stroke="#eac55c" stroke-width="0.75"/>
<text transform="translate(365.6 666.9) scale(0.965 1)" font-size="5.4" text-anchor="start" font-weight="normal" fill="#222" stroke="#222" stroke-width="0.1">GATA2_KITN822K</text>
<line x1="373.9" y1="607.3" x2="387.3" y2="607.3" stroke="#555" stroke-width="0.6"/>
<line x1="387.3" y1="603.9" x2="387.3" y2="610.1" stroke="#555" stroke-width="0.6"/>
<line x1="387.3" y1="603.9" x2="391.6" y2="603.9" stroke="#555" stroke-width="0.6"/>
<line x1="387.3" y1="610.1" x2="391.6" y2="610.1" stroke="#555" stroke-width="0.6"/>
<circle cx="382.7" cy="607.3" r="1.9" fill="#c6c8dc" stroke="#8e96c6" stroke-width="0.6"/>
<circle cx="391.6" cy="603.9" r="1.6" fill="#ccbfd5" stroke="#9a7ca8" stroke-width="0.6"/>
<circle cx="391.6" cy="607" r="1.6" fill="#e6d6c3" stroke="#c9a47c" stroke-width="0.6"/>
<circle cx="391.6" cy="609.9" r="1.6" fill="#f0cfe3" stroke="#d96aaa" stroke-width="0.6"/>
<line x1="391.6" y1="603.9" x2="396" y2="603.9" stroke="#555" stroke-width="0.6"/>
<line x1="396" y1="591.5" x2="396" y2="615.9" stroke="#555" stroke-width="0.6"/>
<line x1="396" y1="591.5" x2="400.4" y2="591.5" stroke="#555" stroke-width="0.6"/>
<line x1="396" y1="594.56" x2="400.4" y2="594.56" stroke="#555" stroke-width="0.6"/>
<line x1="396" y1="597.62" x2="400.4" y2="597.62" stroke="#555" stroke-width="0.6"/>
<line x1="396" y1="600.68" x2="400.4" y2="600.68" stroke="#555" stroke-width="0.6"/>
<line x1="396" y1="603.74" x2="400.4" y2="603.74" stroke="#555" stroke-width="0.6"/>
<line x1="396" y1="606.8" x2="400.4" y2="606.8" stroke="#555" stroke-width="0.6"/>
<line x1="396" y1="609.86" x2="400.4" y2="609.86" stroke="#555" stroke-width="0.6"/>
<line x1="396" y1="612.92" x2="400.4" y2="612.92" stroke="#555" stroke-width="0.6"/>
<line x1="396" y1="615.98" x2="400.4" y2="615.98" stroke="#555" stroke-width="0.6"/>
<circle cx="400.4" cy="591.5" r="1.5" fill="#dfe9cf" stroke="#94c47c" stroke-width="0.6"/>
<circle cx="400.4" cy="594.56" r="1.5" fill="#cbd5ca" stroke="#83a088" stroke-width="0.6"/>
<circle cx="400.4" cy="597.62" r="1.5" fill="#e6e2f6" stroke="#aba3dc" stroke-width="0.6"/>
<circle cx="400.4" cy="600.68" r="1.5" fill="#cdbfb0" stroke="#8d7a66" stroke-width="0.6"/>
<circle cx="400.4" cy="603.74" r="1.5" fill="#eef3e6" stroke="#c6d8b8" stroke-width="0.6"/>
<circle cx="400.4" cy="606.8" r="1.5" fill="#d6d7dc" stroke="#9597a0" stroke-width="0.6"/>
<circle cx="400.4" cy="609.86" r="1.5" fill="#efc6c6" stroke="#cc5555" stroke-width="0.6"/>
<circle cx="400.4" cy="612.92" r="1.5" fill="#f6e1c7" stroke="#ecb46c" stroke-width="0.6"/>
<circle cx="400.4" cy="615.98" r="1.5" fill="#f8e7b4" stroke="#eac55c" stroke-width="0.6"/>
<rect x="432.8" y="589.7" width="12.5" height="24.2" fill="#c6c8dc"/>
<line x1="445.3" y1="589.7" x2="445.3" y2="613.9" stroke="#5e5e68" stroke-opacity="0.75" stroke-width="0.6"/>
<rect x="445.3" y="589.7" width="18.2" height="24.2" fill="#ccbfd5"/>
<line x1="463.5" y1="589.7" x2="463.5" y2="613.9" stroke="#5e5e68" stroke-opacity="0.75" stroke-width="0.6"/>
<rect x="463.5" y="589.7" width="22.8" height="24.2" fill="#dfe9cf"/>
<line x1="486.3" y1="589.7" x2="486.3" y2="613.9" stroke="#5e5e68" stroke-opacity="0.75" stroke-width="0.6"/>
<rect x="486.3" y="589.7" width="8.5" height="24.2" fill="#cbd5ca"/>
<line x1="494.8" y1="589.7" x2="494.8" y2="613.9" stroke="#5e5e68" stroke-opacity="0.75" stroke-width="0.6"/>
<rect x="494.8" y="589.7" width="1.7" height="24.2" fill="#e6e2f6"/>
<line x1="496.5" y1="589.7" x2="496.5" y2="613.9" stroke="#5e5e68" stroke-opacity="0.75" stroke-width="0.6"/>
<rect x="496.5" y="589.7" width="1.7" height="24.2" fill="#eef3e6"/>
<line x1="498.2" y1="589.7" x2="498.2" y2="613.9" stroke="#5e5e68" stroke-opacity="0.75" stroke-width="0.6"/>
<rect x="498.2" y="589.7" width="2.3" height="24.2" fill="#cdbfb0"/>
<line x1="500.5" y1="589.7" x2="500.5" y2="613.9" stroke="#5e5e68" stroke-opacity="0.75" stroke-width="0.6"/>
<rect x="500.5" y="589.7" width="1.8" height="24.2" fill="#d6d7dc"/>
<line x1="502.3" y1="589.7" x2="502.3" y2="613.9" stroke="#5e5e68" stroke-opacity="0.75" stroke-width="0.6"/>
<rect x="502.3" y="589.7" width="1.5" height="24.2" fill="#efc6c6"/>
<line x1="503.8" y1="589.7" x2="503.8" y2="613.9" stroke="#5e5e68" stroke-opacity="0.75" stroke-width="0.6"/>
<rect x="503.8" y="589.7" width="1.8" height="24.2" fill="#f6e1c7"/>
<line x1="505.6" y1="589.7" x2="505.6" y2="613.9" stroke="#5e5e68" stroke-opacity="0.75" stroke-width="0.6"/>
<rect x="505.6" y="589.7" width="2.3" height="24.2" fill="#f8e7b4"/>
<rect x="432.8" y="589.7" width="75.1" height="24.2" fill="none" stroke="#85858f" stroke-width="0.8"/>
<rect x="432.8" y="618.4" width="75.1" height="23.8" fill="#c6c8dc"/>
<rect x="432.8" y="618.4" width="75.1" height="23.8" fill="none" stroke="#85858f" stroke-width="0.8"/>
<line x1="429.5" y1="645" x2="511.5" y2="645" stroke="#111" stroke-width="1.25"/>
<line x1="432.8" y1="645" x2="432.8" y2="648.1" stroke="#111" stroke-width="1.0"/>
<text x="432.8" y="657" font-size="6.5" text-anchor="middle" font-weight="normal" fill="#222" stroke="#222" stroke-width="0.24">0.0</text>
<line x1="447.82" y1="645" x2="447.82" y2="648.1" stroke="#111" stroke-width="1.0"/>
<text x="447.82" y="657" font-size="6.5" text-anchor="middle" font-weight="normal" fill="#222" stroke="#222" stroke-width="0.24">0.2</text>
<line x1="462.84" y1="645" x2="462.84" y2="648.1" stroke="#111" stroke-width="1.0"/>
<text x="462.84" y="657" font-size="6.5" text-anchor="middle" font-weight="normal" fill="#222" stroke="#222" stroke-width="0.24">0.4</text>
<line x1="477.86" y1="645" x2="477.86" y2="648.1" stroke="#111" stroke-width="1.0"/>
<text x="477.86" y="657" font-size="6.5" text-anchor="middle" font-weight="normal" fill="#222" stroke="#222" stroke-width="0.24">0.6</text>
<line x1="492.88" y1="645" x2="492.88" y2="648.1" stroke="#111" stroke-width="1.0"/>
<text x="492.88" y="657" font-size="6.5" text-anchor="middle" font-weight="normal" fill="#222" stroke="#222" stroke-width="0.24">0.8</text>
<line x1="507.9" y1="645" x2="507.9" y2="648.1" stroke="#111" stroke-width="1.0"/>
<text x="507.9" y="657" font-size="6.5" text-anchor="middle" font-weight="normal" fill="#222" stroke="#222" stroke-width="0.24">1.0</text>
</g>
<rect x="0.5" y="0.5" width="519" height="674" fill="none" stroke="#000" stroke-width="1.2"/>
</svg>
</body></html>
